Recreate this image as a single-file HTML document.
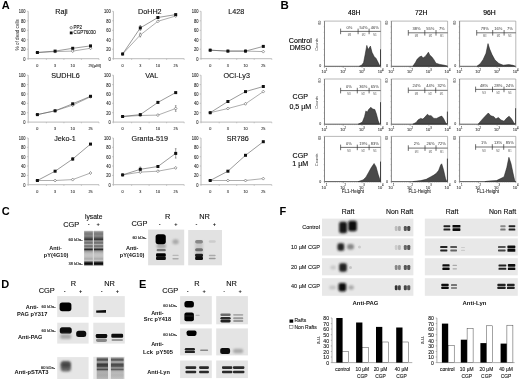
<!DOCTYPE html>
<html><head><meta charset="utf-8"><style>
html,body{margin:0;padding:0;background:#fff;}
svg{display:block;filter:grayscale(1) blur(0.35px);}
text{font-family:'Liberation Sans',sans-serif;}
</style></head><body>
<svg width="520" height="379" viewBox="0 0 520 379">
<rect width="520" height="379" fill="#fff"/>
<defs>
<filter id="b1" x="-50%" y="-50%" width="200%" height="200%"><feGaussianBlur stdDeviation="0.75"/></filter>
<filter id="b2" x="-50%" y="-50%" width="200%" height="200%"><feGaussianBlur stdDeviation="1.0"/></filter>
<filter id="bh" x="-20%" y="-5%" width="140%" height="110%"><feGaussianBlur stdDeviation="0.5 0.3"/></filter>
<filter id="b3" x="-50%" y="-50%" width="200%" height="200%"><feGaussianBlur stdDeviation="1.6"/></filter>
</defs>
<text x="1.8" y="4.9" font-size="11" font-weight="bold" fill="#000" dominant-baseline="central">A</text>
<path d="M28.2,11.3V58.7H99.0" stroke="#aaa" stroke-width="0.8" fill="none"/>
<path d="M26.9,58.7H28.2M26.9,49.2H28.2M26.9,39.7H28.2M26.9,30.3H28.2M26.9,20.8H28.2M26.9,11.3H28.2M28.2,58.7v1.2M46.4,58.7v1.2M63.9,58.7v1.2M81.4,58.7v1.2M99.0,58.7v1.2" stroke="#aaa" stroke-width="0.6" fill="none"/>
<text x="25.6" y="59.1" font-size="4.7" text-anchor="end" font-weight="normal" fill="#333" dominant-baseline="central" stroke="#333" stroke-width="0.12" textLength="2.25" lengthAdjust="spacingAndGlyphs">0</text>
<text x="25.6" y="49.6" font-size="4.7" text-anchor="end" font-weight="normal" fill="#333" dominant-baseline="central" stroke="#333" stroke-width="0.12" textLength="4.50" lengthAdjust="spacingAndGlyphs">20</text>
<text x="25.6" y="40.1" font-size="4.7" text-anchor="end" font-weight="normal" fill="#333" dominant-baseline="central" stroke="#333" stroke-width="0.12" textLength="4.50" lengthAdjust="spacingAndGlyphs">40</text>
<text x="25.6" y="30.7" font-size="4.7" text-anchor="end" font-weight="normal" fill="#333" dominant-baseline="central" stroke="#333" stroke-width="0.12" textLength="4.50" lengthAdjust="spacingAndGlyphs">60</text>
<text x="25.6" y="21.2" font-size="4.7" text-anchor="end" font-weight="normal" fill="#333" dominant-baseline="central" stroke="#333" stroke-width="0.12" textLength="4.50" lengthAdjust="spacingAndGlyphs">80</text>
<text x="25.6" y="11.7" font-size="4.7" text-anchor="end" font-weight="normal" fill="#333" dominant-baseline="central" stroke="#333" stroke-width="0.12" textLength="6.74" lengthAdjust="spacingAndGlyphs">100</text>
<text x="37.4" y="65.3" font-size="4.4" text-anchor="middle" font-weight="normal" fill="#333" dominant-baseline="central" stroke="#333" stroke-width="0.1" textLength="2.10" lengthAdjust="spacingAndGlyphs">0</text>
<text x="55.1" y="65.3" font-size="4.4" text-anchor="middle" font-weight="normal" fill="#333" dominant-baseline="central" stroke="#333" stroke-width="0.1" textLength="2.10" lengthAdjust="spacingAndGlyphs">3</text>
<text x="72.7" y="65.3" font-size="4.4" text-anchor="middle" font-weight="normal" fill="#333" dominant-baseline="central" stroke="#333" stroke-width="0.1" textLength="4.21" lengthAdjust="spacingAndGlyphs">10</text>
<text x="90.5" y="65.3" font-size="4.4" text-anchor="middle" font-weight="normal" fill="#333" dominant-baseline="central" stroke="#333" stroke-width="0.1" textLength="4.21" lengthAdjust="spacingAndGlyphs">25</text>
<text x="92.6" y="65.4" font-size="4.2" text-anchor="start" font-weight="normal" fill="#333" dominant-baseline="central" stroke="#333" stroke-width="0.1">[µM]</text>
<text x="0" y="0" font-size="4.6" text-anchor="middle" fill="#111" dominant-baseline="central" transform="translate(17.3,34.8) rotate(-90)">% of dead cells</text>
<circle cx="71.2" cy="27.7" r="1.2" fill="#fff" stroke="#333" stroke-width="0.6"/>
<text x="73.6" y="27.7" font-size="4.5" text-anchor="start" font-weight="normal" fill="#111" dominant-baseline="central" stroke="#111" stroke-width="0.1">PP2</text>
<rect x="69.8" y="31.5" width="2.8" height="2.8" fill="#111"/>
<text x="73.6" y="32.9" font-size="4.5" text-anchor="start" font-weight="normal" fill="#111" dominant-baseline="central" stroke="#111" stroke-width="0.1">CGP76030</text>
<text x="61.5" y="11.6" font-size="7.2" text-anchor="middle" font-weight="normal" fill="#111" dominant-baseline="central" stroke="#111" stroke-width="0.12">Raji</text>
<polyline points="37.4,52.5 55.1,51.6 72.7,51.1 90.5,48.3" stroke="#777" stroke-width="0.6" fill="none"/>
<polyline points="37.4,52.5 55.1,51.1 72.7,48.3 90.5,45.9" stroke="#555" stroke-width="0.6" fill="none"/>
<path d="M37.4,51.0l1.3,1.5l-1.3,1.5l-1.3,-1.5z" fill="#fff" stroke="#555" stroke-width="0.55"/>
<path d="M55.1,50.1l1.3,1.5l-1.3,1.5l-1.3,-1.5z" fill="#fff" stroke="#555" stroke-width="0.55"/>
<path d="M72.7,49.6l1.3,1.5l-1.3,1.5l-1.3,-1.5z" fill="#fff" stroke="#555" stroke-width="0.55"/>
<path d="M90.5,46.8l1.3,1.5l-1.3,1.5l-1.3,-1.5z" fill="#fff" stroke="#555" stroke-width="0.55"/>
<rect x="35.9" y="51.0" width="3" height="3" fill="#111"/>
<rect x="53.6" y="49.6" width="3" height="3" fill="#111"/>
<rect x="71.2" y="46.8" width="3" height="3" fill="#111"/>
<rect x="89.0" y="44.4" width="3" height="3" fill="#111"/>
<path d="M113.4,11.3V58.7H184.2" stroke="#aaa" stroke-width="0.8" fill="none"/>
<path d="M112.1,58.7H113.4M112.1,49.2H113.4M112.1,39.7H113.4M112.1,30.3H113.4M112.1,20.8H113.4M112.1,11.3H113.4M113.4,58.7v1.2M131.6,58.7v1.2M149.1,58.7v1.2M166.6,58.7v1.2M184.2,58.7v1.2" stroke="#aaa" stroke-width="0.6" fill="none"/>
<text x="110.8" y="59.1" font-size="4.7" text-anchor="end" font-weight="normal" fill="#333" dominant-baseline="central" stroke="#333" stroke-width="0.12" textLength="2.25" lengthAdjust="spacingAndGlyphs">0</text>
<text x="110.8" y="49.6" font-size="4.7" text-anchor="end" font-weight="normal" fill="#333" dominant-baseline="central" stroke="#333" stroke-width="0.12" textLength="4.50" lengthAdjust="spacingAndGlyphs">20</text>
<text x="110.8" y="40.1" font-size="4.7" text-anchor="end" font-weight="normal" fill="#333" dominant-baseline="central" stroke="#333" stroke-width="0.12" textLength="4.50" lengthAdjust="spacingAndGlyphs">40</text>
<text x="110.8" y="30.7" font-size="4.7" text-anchor="end" font-weight="normal" fill="#333" dominant-baseline="central" stroke="#333" stroke-width="0.12" textLength="4.50" lengthAdjust="spacingAndGlyphs">60</text>
<text x="110.8" y="21.2" font-size="4.7" text-anchor="end" font-weight="normal" fill="#333" dominant-baseline="central" stroke="#333" stroke-width="0.12" textLength="4.50" lengthAdjust="spacingAndGlyphs">80</text>
<text x="110.8" y="11.7" font-size="4.7" text-anchor="end" font-weight="normal" fill="#333" dominant-baseline="central" stroke="#333" stroke-width="0.12" textLength="6.74" lengthAdjust="spacingAndGlyphs">100</text>
<text x="122.6" y="65.3" font-size="4.4" text-anchor="middle" font-weight="normal" fill="#333" dominant-baseline="central" stroke="#333" stroke-width="0.1" textLength="2.10" lengthAdjust="spacingAndGlyphs">0</text>
<text x="140.3" y="65.3" font-size="4.4" text-anchor="middle" font-weight="normal" fill="#333" dominant-baseline="central" stroke="#333" stroke-width="0.1" textLength="2.10" lengthAdjust="spacingAndGlyphs">3</text>
<text x="157.9" y="65.3" font-size="4.4" text-anchor="middle" font-weight="normal" fill="#333" dominant-baseline="central" stroke="#333" stroke-width="0.1" textLength="4.21" lengthAdjust="spacingAndGlyphs">10</text>
<text x="175.7" y="65.3" font-size="4.4" text-anchor="middle" font-weight="normal" fill="#333" dominant-baseline="central" stroke="#333" stroke-width="0.1" textLength="4.21" lengthAdjust="spacingAndGlyphs">25</text>
<text x="149.8" y="11.6" font-size="7.2" text-anchor="middle" font-weight="normal" fill="#111" dominant-baseline="central" stroke="#111" stroke-width="0.12">DoHH2</text>
<path d="M140.3,25.5V30.3M139.5,25.5h1.6M139.5,30.3h1.6" stroke="#444" stroke-width="0.5"/>
<path d="M140.3,33.1V36.9M139.5,33.1h1.6M139.5,36.9h1.6" stroke="#444" stroke-width="0.5"/>
<polyline points="122.6,54.0 140.3,35.0 157.9,21.3 175.7,16.0" stroke="#777" stroke-width="0.6" fill="none"/>
<polyline points="122.6,54.0 140.3,27.9 157.9,17.5 175.7,14.6" stroke="#555" stroke-width="0.6" fill="none"/>
<path d="M122.6,52.5l1.3,1.5l-1.3,1.5l-1.3,-1.5z" fill="#fff" stroke="#555" stroke-width="0.55"/>
<path d="M140.3,33.5l1.3,1.5l-1.3,1.5l-1.3,-1.5z" fill="#fff" stroke="#555" stroke-width="0.55"/>
<path d="M157.9,19.8l1.3,1.5l-1.3,1.5l-1.3,-1.5z" fill="#fff" stroke="#555" stroke-width="0.55"/>
<path d="M175.7,14.5l1.3,1.5l-1.3,1.5l-1.3,-1.5z" fill="#fff" stroke="#555" stroke-width="0.55"/>
<rect x="121.1" y="52.5" width="3" height="3" fill="#111"/>
<rect x="138.8" y="26.4" width="3" height="3" fill="#111"/>
<rect x="156.4" y="16.0" width="3" height="3" fill="#111"/>
<rect x="174.2" y="13.1" width="3" height="3" fill="#111"/>
<path d="M201.0,11.3V58.7H271.8" stroke="#aaa" stroke-width="0.8" fill="none"/>
<path d="M199.7,58.7H201.0M199.7,49.2H201.0M199.7,39.7H201.0M199.7,30.3H201.0M199.7,20.8H201.0M199.7,11.3H201.0M201.0,58.7v1.2M219.2,58.7v1.2M236.7,58.7v1.2M254.2,58.7v1.2M271.8,58.7v1.2" stroke="#aaa" stroke-width="0.6" fill="none"/>
<text x="198.4" y="59.1" font-size="4.7" text-anchor="end" font-weight="normal" fill="#333" dominant-baseline="central" stroke="#333" stroke-width="0.12" textLength="2.25" lengthAdjust="spacingAndGlyphs">0</text>
<text x="198.4" y="49.6" font-size="4.7" text-anchor="end" font-weight="normal" fill="#333" dominant-baseline="central" stroke="#333" stroke-width="0.12" textLength="4.50" lengthAdjust="spacingAndGlyphs">20</text>
<text x="198.4" y="40.1" font-size="4.7" text-anchor="end" font-weight="normal" fill="#333" dominant-baseline="central" stroke="#333" stroke-width="0.12" textLength="4.50" lengthAdjust="spacingAndGlyphs">40</text>
<text x="198.4" y="30.7" font-size="4.7" text-anchor="end" font-weight="normal" fill="#333" dominant-baseline="central" stroke="#333" stroke-width="0.12" textLength="4.50" lengthAdjust="spacingAndGlyphs">60</text>
<text x="198.4" y="21.2" font-size="4.7" text-anchor="end" font-weight="normal" fill="#333" dominant-baseline="central" stroke="#333" stroke-width="0.12" textLength="4.50" lengthAdjust="spacingAndGlyphs">80</text>
<text x="198.4" y="11.7" font-size="4.7" text-anchor="end" font-weight="normal" fill="#333" dominant-baseline="central" stroke="#333" stroke-width="0.12" textLength="6.74" lengthAdjust="spacingAndGlyphs">100</text>
<text x="210.2" y="65.3" font-size="4.4" text-anchor="middle" font-weight="normal" fill="#333" dominant-baseline="central" stroke="#333" stroke-width="0.1" textLength="2.10" lengthAdjust="spacingAndGlyphs">0</text>
<text x="227.9" y="65.3" font-size="4.4" text-anchor="middle" font-weight="normal" fill="#333" dominant-baseline="central" stroke="#333" stroke-width="0.1" textLength="2.10" lengthAdjust="spacingAndGlyphs">3</text>
<text x="245.5" y="65.3" font-size="4.4" text-anchor="middle" font-weight="normal" fill="#333" dominant-baseline="central" stroke="#333" stroke-width="0.1" textLength="4.21" lengthAdjust="spacingAndGlyphs">10</text>
<text x="263.3" y="65.3" font-size="4.4" text-anchor="middle" font-weight="normal" fill="#333" dominant-baseline="central" stroke="#333" stroke-width="0.1" textLength="4.21" lengthAdjust="spacingAndGlyphs">25</text>
<text x="236.3" y="11.6" font-size="7.2" text-anchor="middle" font-weight="normal" fill="#111" dominant-baseline="central" stroke="#111" stroke-width="0.12">L428</text>
<polyline points="210.2,50.2 227.9,51.1 245.5,51.1 263.3,51.6" stroke="#777" stroke-width="0.6" fill="none"/>
<polyline points="210.2,50.2 227.9,51.1 245.5,51.1 263.3,46.4" stroke="#555" stroke-width="0.6" fill="none"/>
<path d="M210.2,48.7l1.3,1.5l-1.3,1.5l-1.3,-1.5z" fill="#fff" stroke="#555" stroke-width="0.55"/>
<path d="M227.9,49.6l1.3,1.5l-1.3,1.5l-1.3,-1.5z" fill="#fff" stroke="#555" stroke-width="0.55"/>
<path d="M245.5,49.6l1.3,1.5l-1.3,1.5l-1.3,-1.5z" fill="#fff" stroke="#555" stroke-width="0.55"/>
<path d="M263.3,50.1l1.3,1.5l-1.3,1.5l-1.3,-1.5z" fill="#fff" stroke="#555" stroke-width="0.55"/>
<rect x="208.7" y="48.7" width="3" height="3" fill="#111"/>
<rect x="226.4" y="49.6" width="3" height="3" fill="#111"/>
<rect x="244.0" y="49.6" width="3" height="3" fill="#111"/>
<rect x="261.8" y="44.9" width="3" height="3" fill="#111"/>
<path d="M28.2,75.2V122.1H99.0" stroke="#aaa" stroke-width="0.8" fill="none"/>
<path d="M26.9,122.1H28.2M26.9,112.7H28.2M26.9,103.3H28.2M26.9,94.0H28.2M26.9,84.6H28.2M26.9,75.2H28.2M28.2,122.1v1.2M46.4,122.1v1.2M63.9,122.1v1.2M81.4,122.1v1.2M99.0,122.1v1.2" stroke="#aaa" stroke-width="0.6" fill="none"/>
<text x="25.6" y="122.5" font-size="4.7" text-anchor="end" font-weight="normal" fill="#333" dominant-baseline="central" stroke="#333" stroke-width="0.12" textLength="2.25" lengthAdjust="spacingAndGlyphs">0</text>
<text x="25.6" y="113.1" font-size="4.7" text-anchor="end" font-weight="normal" fill="#333" dominant-baseline="central" stroke="#333" stroke-width="0.12" textLength="4.50" lengthAdjust="spacingAndGlyphs">20</text>
<text x="25.6" y="103.7" font-size="4.7" text-anchor="end" font-weight="normal" fill="#333" dominant-baseline="central" stroke="#333" stroke-width="0.12" textLength="4.50" lengthAdjust="spacingAndGlyphs">40</text>
<text x="25.6" y="94.4" font-size="4.7" text-anchor="end" font-weight="normal" fill="#333" dominant-baseline="central" stroke="#333" stroke-width="0.12" textLength="4.50" lengthAdjust="spacingAndGlyphs">60</text>
<text x="25.6" y="85.0" font-size="4.7" text-anchor="end" font-weight="normal" fill="#333" dominant-baseline="central" stroke="#333" stroke-width="0.12" textLength="4.50" lengthAdjust="spacingAndGlyphs">80</text>
<text x="25.6" y="75.6" font-size="4.7" text-anchor="end" font-weight="normal" fill="#333" dominant-baseline="central" stroke="#333" stroke-width="0.12" textLength="6.74" lengthAdjust="spacingAndGlyphs">100</text>
<text x="37.4" y="128.7" font-size="4.4" text-anchor="middle" font-weight="normal" fill="#333" dominant-baseline="central" stroke="#333" stroke-width="0.1" textLength="2.10" lengthAdjust="spacingAndGlyphs">0</text>
<text x="55.1" y="128.7" font-size="4.4" text-anchor="middle" font-weight="normal" fill="#333" dominant-baseline="central" stroke="#333" stroke-width="0.1" textLength="2.10" lengthAdjust="spacingAndGlyphs">3</text>
<text x="72.7" y="128.7" font-size="4.4" text-anchor="middle" font-weight="normal" fill="#333" dominant-baseline="central" stroke="#333" stroke-width="0.1" textLength="4.21" lengthAdjust="spacingAndGlyphs">10</text>
<text x="90.5" y="128.7" font-size="4.4" text-anchor="middle" font-weight="normal" fill="#333" dominant-baseline="central" stroke="#333" stroke-width="0.1" textLength="4.21" lengthAdjust="spacingAndGlyphs">25</text>
<text x="65.5" y="75.5" font-size="7.2" text-anchor="middle" font-weight="normal" fill="#111" dominant-baseline="central" stroke="#111" stroke-width="0.12">SUDHL6</text>
<polyline points="37.4,114.6 55.1,110.8 72.7,105.2 90.5,96.8" stroke="#777" stroke-width="0.6" fill="none"/>
<polyline points="37.4,114.6 55.1,110.8 72.7,103.8 90.5,96.3" stroke="#555" stroke-width="0.6" fill="none"/>
<path d="M37.4,113.1l1.3,1.5l-1.3,1.5l-1.3,-1.5z" fill="#fff" stroke="#555" stroke-width="0.55"/>
<path d="M55.1,109.3l1.3,1.5l-1.3,1.5l-1.3,-1.5z" fill="#fff" stroke="#555" stroke-width="0.55"/>
<path d="M72.7,103.7l1.3,1.5l-1.3,1.5l-1.3,-1.5z" fill="#fff" stroke="#555" stroke-width="0.55"/>
<path d="M90.5,95.3l1.3,1.5l-1.3,1.5l-1.3,-1.5z" fill="#fff" stroke="#555" stroke-width="0.55"/>
<rect x="35.9" y="113.1" width="3" height="3" fill="#111"/>
<rect x="53.6" y="109.3" width="3" height="3" fill="#111"/>
<rect x="71.2" y="102.3" width="3" height="3" fill="#111"/>
<rect x="89.0" y="94.8" width="3" height="3" fill="#111"/>
<path d="M113.4,75.2V122.1H184.2" stroke="#aaa" stroke-width="0.8" fill="none"/>
<path d="M112.1,122.1H113.4M112.1,112.7H113.4M112.1,103.3H113.4M112.1,94.0H113.4M112.1,84.6H113.4M112.1,75.2H113.4M113.4,122.1v1.2M131.6,122.1v1.2M149.1,122.1v1.2M166.6,122.1v1.2M184.2,122.1v1.2" stroke="#aaa" stroke-width="0.6" fill="none"/>
<text x="110.8" y="122.5" font-size="4.7" text-anchor="end" font-weight="normal" fill="#333" dominant-baseline="central" stroke="#333" stroke-width="0.12" textLength="2.25" lengthAdjust="spacingAndGlyphs">0</text>
<text x="110.8" y="113.1" font-size="4.7" text-anchor="end" font-weight="normal" fill="#333" dominant-baseline="central" stroke="#333" stroke-width="0.12" textLength="4.50" lengthAdjust="spacingAndGlyphs">20</text>
<text x="110.8" y="103.7" font-size="4.7" text-anchor="end" font-weight="normal" fill="#333" dominant-baseline="central" stroke="#333" stroke-width="0.12" textLength="4.50" lengthAdjust="spacingAndGlyphs">40</text>
<text x="110.8" y="94.4" font-size="4.7" text-anchor="end" font-weight="normal" fill="#333" dominant-baseline="central" stroke="#333" stroke-width="0.12" textLength="4.50" lengthAdjust="spacingAndGlyphs">60</text>
<text x="110.8" y="85.0" font-size="4.7" text-anchor="end" font-weight="normal" fill="#333" dominant-baseline="central" stroke="#333" stroke-width="0.12" textLength="4.50" lengthAdjust="spacingAndGlyphs">80</text>
<text x="110.8" y="75.6" font-size="4.7" text-anchor="end" font-weight="normal" fill="#333" dominant-baseline="central" stroke="#333" stroke-width="0.12" textLength="6.74" lengthAdjust="spacingAndGlyphs">100</text>
<text x="122.6" y="128.7" font-size="4.4" text-anchor="middle" font-weight="normal" fill="#333" dominant-baseline="central" stroke="#333" stroke-width="0.1" textLength="2.10" lengthAdjust="spacingAndGlyphs">0</text>
<text x="140.3" y="128.7" font-size="4.4" text-anchor="middle" font-weight="normal" fill="#333" dominant-baseline="central" stroke="#333" stroke-width="0.1" textLength="2.10" lengthAdjust="spacingAndGlyphs">3</text>
<text x="157.9" y="128.7" font-size="4.4" text-anchor="middle" font-weight="normal" fill="#333" dominant-baseline="central" stroke="#333" stroke-width="0.1" textLength="4.21" lengthAdjust="spacingAndGlyphs">10</text>
<text x="175.7" y="128.7" font-size="4.4" text-anchor="middle" font-weight="normal" fill="#333" dominant-baseline="central" stroke="#333" stroke-width="0.1" textLength="4.21" lengthAdjust="spacingAndGlyphs">25</text>
<text x="151.7" y="75.5" font-size="7.2" text-anchor="middle" font-weight="normal" fill="#111" dominant-baseline="central" stroke="#111" stroke-width="0.12">VAL</text>
<path d="M175.7,105.7V111.3M174.9,105.7h1.6M174.9,111.3h1.6" stroke="#444" stroke-width="0.5"/>
<polyline points="122.6,116.5 140.3,115.5 157.9,115.1 175.7,108.5" stroke="#777" stroke-width="0.6" fill="none"/>
<polyline points="122.6,116.5 140.3,114.6 157.9,102.4 175.7,92.6" stroke="#555" stroke-width="0.6" fill="none"/>
<path d="M122.6,115.0l1.3,1.5l-1.3,1.5l-1.3,-1.5z" fill="#fff" stroke="#555" stroke-width="0.55"/>
<path d="M140.3,114.0l1.3,1.5l-1.3,1.5l-1.3,-1.5z" fill="#fff" stroke="#555" stroke-width="0.55"/>
<path d="M157.9,113.6l1.3,1.5l-1.3,1.5l-1.3,-1.5z" fill="#fff" stroke="#555" stroke-width="0.55"/>
<path d="M175.7,107.0l1.3,1.5l-1.3,1.5l-1.3,-1.5z" fill="#fff" stroke="#555" stroke-width="0.55"/>
<rect x="121.1" y="115.0" width="3" height="3" fill="#111"/>
<rect x="138.8" y="113.1" width="3" height="3" fill="#111"/>
<rect x="156.4" y="100.9" width="3" height="3" fill="#111"/>
<rect x="174.2" y="91.1" width="3" height="3" fill="#111"/>
<path d="M201.0,75.2V122.1H271.8" stroke="#aaa" stroke-width="0.8" fill="none"/>
<path d="M199.7,122.1H201.0M199.7,112.7H201.0M199.7,103.3H201.0M199.7,94.0H201.0M199.7,84.6H201.0M199.7,75.2H201.0M201.0,122.1v1.2M219.2,122.1v1.2M236.7,122.1v1.2M254.2,122.1v1.2M271.8,122.1v1.2" stroke="#aaa" stroke-width="0.6" fill="none"/>
<text x="198.4" y="122.5" font-size="4.7" text-anchor="end" font-weight="normal" fill="#333" dominant-baseline="central" stroke="#333" stroke-width="0.12" textLength="2.25" lengthAdjust="spacingAndGlyphs">0</text>
<text x="198.4" y="113.1" font-size="4.7" text-anchor="end" font-weight="normal" fill="#333" dominant-baseline="central" stroke="#333" stroke-width="0.12" textLength="4.50" lengthAdjust="spacingAndGlyphs">20</text>
<text x="198.4" y="103.7" font-size="4.7" text-anchor="end" font-weight="normal" fill="#333" dominant-baseline="central" stroke="#333" stroke-width="0.12" textLength="4.50" lengthAdjust="spacingAndGlyphs">40</text>
<text x="198.4" y="94.4" font-size="4.7" text-anchor="end" font-weight="normal" fill="#333" dominant-baseline="central" stroke="#333" stroke-width="0.12" textLength="4.50" lengthAdjust="spacingAndGlyphs">60</text>
<text x="198.4" y="85.0" font-size="4.7" text-anchor="end" font-weight="normal" fill="#333" dominant-baseline="central" stroke="#333" stroke-width="0.12" textLength="4.50" lengthAdjust="spacingAndGlyphs">80</text>
<text x="198.4" y="75.6" font-size="4.7" text-anchor="end" font-weight="normal" fill="#333" dominant-baseline="central" stroke="#333" stroke-width="0.12" textLength="6.74" lengthAdjust="spacingAndGlyphs">100</text>
<text x="210.2" y="128.7" font-size="4.4" text-anchor="middle" font-weight="normal" fill="#333" dominant-baseline="central" stroke="#333" stroke-width="0.1" textLength="2.10" lengthAdjust="spacingAndGlyphs">0</text>
<text x="227.9" y="128.7" font-size="4.4" text-anchor="middle" font-weight="normal" fill="#333" dominant-baseline="central" stroke="#333" stroke-width="0.1" textLength="2.10" lengthAdjust="spacingAndGlyphs">3</text>
<text x="245.5" y="128.7" font-size="4.4" text-anchor="middle" font-weight="normal" fill="#333" dominant-baseline="central" stroke="#333" stroke-width="0.1" textLength="4.21" lengthAdjust="spacingAndGlyphs">10</text>
<text x="263.3" y="128.7" font-size="4.4" text-anchor="middle" font-weight="normal" fill="#333" dominant-baseline="central" stroke="#333" stroke-width="0.1" textLength="4.21" lengthAdjust="spacingAndGlyphs">25</text>
<text x="236.7" y="75.5" font-size="7.2" text-anchor="middle" font-weight="normal" fill="#111" dominant-baseline="central" stroke="#111" stroke-width="0.12">OCI-Ly3</text>
<polyline points="210.2,112.7 227.9,108.5 245.5,103.8 263.3,91.6" stroke="#777" stroke-width="0.6" fill="none"/>
<polyline points="210.2,112.7 227.9,101.5 245.5,91.6 263.3,86.5" stroke="#555" stroke-width="0.6" fill="none"/>
<path d="M210.2,111.2l1.3,1.5l-1.3,1.5l-1.3,-1.5z" fill="#fff" stroke="#555" stroke-width="0.55"/>
<path d="M227.9,107.0l1.3,1.5l-1.3,1.5l-1.3,-1.5z" fill="#fff" stroke="#555" stroke-width="0.55"/>
<path d="M245.5,102.3l1.3,1.5l-1.3,1.5l-1.3,-1.5z" fill="#fff" stroke="#555" stroke-width="0.55"/>
<path d="M263.3,90.1l1.3,1.5l-1.3,1.5l-1.3,-1.5z" fill="#fff" stroke="#555" stroke-width="0.55"/>
<rect x="208.7" y="111.2" width="3" height="3" fill="#111"/>
<rect x="226.4" y="100.0" width="3" height="3" fill="#111"/>
<rect x="244.0" y="90.1" width="3" height="3" fill="#111"/>
<rect x="261.8" y="85.0" width="3" height="3" fill="#111"/>
<path d="M28.2,138.0V184.7H99.0" stroke="#aaa" stroke-width="0.8" fill="none"/>
<path d="M26.9,184.7H28.2M26.9,175.4H28.2M26.9,166.0H28.2M26.9,156.7H28.2M26.9,147.3H28.2M26.9,138.0H28.2M28.2,184.7v1.2M46.4,184.7v1.2M63.9,184.7v1.2M81.4,184.7v1.2M99.0,184.7v1.2" stroke="#aaa" stroke-width="0.6" fill="none"/>
<text x="25.6" y="185.1" font-size="4.7" text-anchor="end" font-weight="normal" fill="#333" dominant-baseline="central" stroke="#333" stroke-width="0.12" textLength="2.25" lengthAdjust="spacingAndGlyphs">0</text>
<text x="25.6" y="175.8" font-size="4.7" text-anchor="end" font-weight="normal" fill="#333" dominant-baseline="central" stroke="#333" stroke-width="0.12" textLength="4.50" lengthAdjust="spacingAndGlyphs">20</text>
<text x="25.6" y="166.4" font-size="4.7" text-anchor="end" font-weight="normal" fill="#333" dominant-baseline="central" stroke="#333" stroke-width="0.12" textLength="4.50" lengthAdjust="spacingAndGlyphs">40</text>
<text x="25.6" y="157.1" font-size="4.7" text-anchor="end" font-weight="normal" fill="#333" dominant-baseline="central" stroke="#333" stroke-width="0.12" textLength="4.50" lengthAdjust="spacingAndGlyphs">60</text>
<text x="25.6" y="147.7" font-size="4.7" text-anchor="end" font-weight="normal" fill="#333" dominant-baseline="central" stroke="#333" stroke-width="0.12" textLength="4.50" lengthAdjust="spacingAndGlyphs">80</text>
<text x="25.6" y="138.4" font-size="4.7" text-anchor="end" font-weight="normal" fill="#333" dominant-baseline="central" stroke="#333" stroke-width="0.12" textLength="6.74" lengthAdjust="spacingAndGlyphs">100</text>
<text x="37.4" y="191.3" font-size="4.4" text-anchor="middle" font-weight="normal" fill="#333" dominant-baseline="central" stroke="#333" stroke-width="0.1" textLength="2.10" lengthAdjust="spacingAndGlyphs">0</text>
<text x="55.1" y="191.3" font-size="4.4" text-anchor="middle" font-weight="normal" fill="#333" dominant-baseline="central" stroke="#333" stroke-width="0.1" textLength="2.10" lengthAdjust="spacingAndGlyphs">3</text>
<text x="72.7" y="191.3" font-size="4.4" text-anchor="middle" font-weight="normal" fill="#333" dominant-baseline="central" stroke="#333" stroke-width="0.1" textLength="4.21" lengthAdjust="spacingAndGlyphs">10</text>
<text x="90.5" y="191.3" font-size="4.4" text-anchor="middle" font-weight="normal" fill="#333" dominant-baseline="central" stroke="#333" stroke-width="0.1" textLength="4.21" lengthAdjust="spacingAndGlyphs">25</text>
<text x="65.0" y="138.3" font-size="7.2" text-anchor="middle" font-weight="normal" fill="#111" dominant-baseline="central" stroke="#111" stroke-width="0.12">Jeko-1</text>
<path d="M72.7,157.6V160.4M71.9,157.6h1.6M71.9,160.4h1.6" stroke="#444" stroke-width="0.5"/>
<polyline points="37.4,180.5 55.1,180.5 72.7,179.6 90.5,173.0" stroke="#777" stroke-width="0.6" fill="none"/>
<polyline points="37.4,180.5 55.1,171.2 72.7,159.0 90.5,144.1" stroke="#555" stroke-width="0.6" fill="none"/>
<path d="M37.4,179.0l1.3,1.5l-1.3,1.5l-1.3,-1.5z" fill="#fff" stroke="#555" stroke-width="0.55"/>
<path d="M55.1,179.0l1.3,1.5l-1.3,1.5l-1.3,-1.5z" fill="#fff" stroke="#555" stroke-width="0.55"/>
<path d="M72.7,178.1l1.3,1.5l-1.3,1.5l-1.3,-1.5z" fill="#fff" stroke="#555" stroke-width="0.55"/>
<path d="M90.5,171.5l1.3,1.5l-1.3,1.5l-1.3,-1.5z" fill="#fff" stroke="#555" stroke-width="0.55"/>
<rect x="35.9" y="179.0" width="3" height="3" fill="#111"/>
<rect x="53.6" y="169.7" width="3" height="3" fill="#111"/>
<rect x="71.2" y="157.5" width="3" height="3" fill="#111"/>
<rect x="89.0" y="142.6" width="3" height="3" fill="#111"/>
<path d="M113.4,138.0V184.7H184.2" stroke="#aaa" stroke-width="0.8" fill="none"/>
<path d="M112.1,184.7H113.4M112.1,175.4H113.4M112.1,166.0H113.4M112.1,156.7H113.4M112.1,147.3H113.4M112.1,138.0H113.4M113.4,184.7v1.2M131.6,184.7v1.2M149.1,184.7v1.2M166.6,184.7v1.2M184.2,184.7v1.2" stroke="#aaa" stroke-width="0.6" fill="none"/>
<text x="110.8" y="185.1" font-size="4.7" text-anchor="end" font-weight="normal" fill="#333" dominant-baseline="central" stroke="#333" stroke-width="0.12" textLength="2.25" lengthAdjust="spacingAndGlyphs">0</text>
<text x="110.8" y="175.8" font-size="4.7" text-anchor="end" font-weight="normal" fill="#333" dominant-baseline="central" stroke="#333" stroke-width="0.12" textLength="4.50" lengthAdjust="spacingAndGlyphs">20</text>
<text x="110.8" y="166.4" font-size="4.7" text-anchor="end" font-weight="normal" fill="#333" dominant-baseline="central" stroke="#333" stroke-width="0.12" textLength="4.50" lengthAdjust="spacingAndGlyphs">40</text>
<text x="110.8" y="157.1" font-size="4.7" text-anchor="end" font-weight="normal" fill="#333" dominant-baseline="central" stroke="#333" stroke-width="0.12" textLength="4.50" lengthAdjust="spacingAndGlyphs">60</text>
<text x="110.8" y="147.7" font-size="4.7" text-anchor="end" font-weight="normal" fill="#333" dominant-baseline="central" stroke="#333" stroke-width="0.12" textLength="4.50" lengthAdjust="spacingAndGlyphs">80</text>
<text x="110.8" y="138.4" font-size="4.7" text-anchor="end" font-weight="normal" fill="#333" dominant-baseline="central" stroke="#333" stroke-width="0.12" textLength="6.74" lengthAdjust="spacingAndGlyphs">100</text>
<text x="122.6" y="191.3" font-size="4.4" text-anchor="middle" font-weight="normal" fill="#333" dominant-baseline="central" stroke="#333" stroke-width="0.1" textLength="2.10" lengthAdjust="spacingAndGlyphs">0</text>
<text x="140.3" y="191.3" font-size="4.4" text-anchor="middle" font-weight="normal" fill="#333" dominant-baseline="central" stroke="#333" stroke-width="0.1" textLength="2.10" lengthAdjust="spacingAndGlyphs">3</text>
<text x="157.9" y="191.3" font-size="4.4" text-anchor="middle" font-weight="normal" fill="#333" dominant-baseline="central" stroke="#333" stroke-width="0.1" textLength="4.21" lengthAdjust="spacingAndGlyphs">10</text>
<text x="175.7" y="191.3" font-size="4.4" text-anchor="middle" font-weight="normal" fill="#333" dominant-baseline="central" stroke="#333" stroke-width="0.1" textLength="4.21" lengthAdjust="spacingAndGlyphs">25</text>
<text x="149.8" y="138.3" font-size="7.2" text-anchor="middle" font-weight="normal" fill="#111" dominant-baseline="central" stroke="#111" stroke-width="0.12">Granta-519</text>
<path d="M140.3,167.0V171.6M139.5,167.0h1.6M139.5,171.6h1.6" stroke="#444" stroke-width="0.5"/>
<path d="M175.7,148.7V158.1M174.9,148.7h1.6M174.9,158.1h1.6" stroke="#444" stroke-width="0.5"/>
<polyline points="122.6,174.9 140.3,172.1 157.9,171.2 175.7,167.9" stroke="#777" stroke-width="0.6" fill="none"/>
<polyline points="122.6,174.9 140.3,169.3 157.9,166.5 175.7,153.4" stroke="#555" stroke-width="0.6" fill="none"/>
<path d="M122.6,173.4l1.3,1.5l-1.3,1.5l-1.3,-1.5z" fill="#fff" stroke="#555" stroke-width="0.55"/>
<path d="M140.3,170.6l1.3,1.5l-1.3,1.5l-1.3,-1.5z" fill="#fff" stroke="#555" stroke-width="0.55"/>
<path d="M157.9,169.7l1.3,1.5l-1.3,1.5l-1.3,-1.5z" fill="#fff" stroke="#555" stroke-width="0.55"/>
<path d="M175.7,166.4l1.3,1.5l-1.3,1.5l-1.3,-1.5z" fill="#fff" stroke="#555" stroke-width="0.55"/>
<rect x="121.1" y="173.4" width="3" height="3" fill="#111"/>
<rect x="138.8" y="167.8" width="3" height="3" fill="#111"/>
<rect x="156.4" y="165.0" width="3" height="3" fill="#111"/>
<rect x="174.2" y="151.9" width="3" height="3" fill="#111"/>
<path d="M201.0,138.0V184.7H271.8" stroke="#aaa" stroke-width="0.8" fill="none"/>
<path d="M199.7,184.7H201.0M199.7,175.4H201.0M199.7,166.0H201.0M199.7,156.7H201.0M199.7,147.3H201.0M199.7,138.0H201.0M201.0,184.7v1.2M219.2,184.7v1.2M236.7,184.7v1.2M254.2,184.7v1.2M271.8,184.7v1.2" stroke="#aaa" stroke-width="0.6" fill="none"/>
<text x="198.4" y="185.1" font-size="4.7" text-anchor="end" font-weight="normal" fill="#333" dominant-baseline="central" stroke="#333" stroke-width="0.12" textLength="2.25" lengthAdjust="spacingAndGlyphs">0</text>
<text x="198.4" y="175.8" font-size="4.7" text-anchor="end" font-weight="normal" fill="#333" dominant-baseline="central" stroke="#333" stroke-width="0.12" textLength="4.50" lengthAdjust="spacingAndGlyphs">20</text>
<text x="198.4" y="166.4" font-size="4.7" text-anchor="end" font-weight="normal" fill="#333" dominant-baseline="central" stroke="#333" stroke-width="0.12" textLength="4.50" lengthAdjust="spacingAndGlyphs">40</text>
<text x="198.4" y="157.1" font-size="4.7" text-anchor="end" font-weight="normal" fill="#333" dominant-baseline="central" stroke="#333" stroke-width="0.12" textLength="4.50" lengthAdjust="spacingAndGlyphs">60</text>
<text x="198.4" y="147.7" font-size="4.7" text-anchor="end" font-weight="normal" fill="#333" dominant-baseline="central" stroke="#333" stroke-width="0.12" textLength="4.50" lengthAdjust="spacingAndGlyphs">80</text>
<text x="198.4" y="138.4" font-size="4.7" text-anchor="end" font-weight="normal" fill="#333" dominant-baseline="central" stroke="#333" stroke-width="0.12" textLength="6.74" lengthAdjust="spacingAndGlyphs">100</text>
<text x="210.2" y="191.3" font-size="4.4" text-anchor="middle" font-weight="normal" fill="#333" dominant-baseline="central" stroke="#333" stroke-width="0.1" textLength="2.10" lengthAdjust="spacingAndGlyphs">0</text>
<text x="227.9" y="191.3" font-size="4.4" text-anchor="middle" font-weight="normal" fill="#333" dominant-baseline="central" stroke="#333" stroke-width="0.1" textLength="2.10" lengthAdjust="spacingAndGlyphs">3</text>
<text x="245.5" y="191.3" font-size="4.4" text-anchor="middle" font-weight="normal" fill="#333" dominant-baseline="central" stroke="#333" stroke-width="0.1" textLength="4.21" lengthAdjust="spacingAndGlyphs">10</text>
<text x="263.3" y="191.3" font-size="4.4" text-anchor="middle" font-weight="normal" fill="#333" dominant-baseline="central" stroke="#333" stroke-width="0.1" textLength="4.21" lengthAdjust="spacingAndGlyphs">25</text>
<text x="237.7" y="138.3" font-size="7.2" text-anchor="middle" font-weight="normal" fill="#111" dominant-baseline="central" stroke="#111" stroke-width="0.12">SR786</text>
<polyline points="210.2,180.5 227.9,180.5 245.5,180.5 263.3,178.6" stroke="#777" stroke-width="0.6" fill="none"/>
<polyline points="210.2,180.5 227.9,171.2 245.5,155.3 263.3,141.7" stroke="#555" stroke-width="0.6" fill="none"/>
<path d="M210.2,179.0l1.3,1.5l-1.3,1.5l-1.3,-1.5z" fill="#fff" stroke="#555" stroke-width="0.55"/>
<path d="M227.9,179.0l1.3,1.5l-1.3,1.5l-1.3,-1.5z" fill="#fff" stroke="#555" stroke-width="0.55"/>
<path d="M245.5,179.0l1.3,1.5l-1.3,1.5l-1.3,-1.5z" fill="#fff" stroke="#555" stroke-width="0.55"/>
<path d="M263.3,177.1l1.3,1.5l-1.3,1.5l-1.3,-1.5z" fill="#fff" stroke="#555" stroke-width="0.55"/>
<rect x="208.7" y="179.0" width="3" height="3" fill="#111"/>
<rect x="226.4" y="169.7" width="3" height="3" fill="#111"/>
<rect x="244.0" y="153.8" width="3" height="3" fill="#111"/>
<rect x="261.8" y="140.2" width="3" height="3" fill="#111"/>
<text x="280.6" y="4.8" font-size="11.5" font-weight="bold" fill="#000" dominant-baseline="central">B</text>
<text x="354.3" y="12.0" font-size="6.8" text-anchor="middle" font-weight="normal" fill="#000" dominant-baseline="central" stroke="#000" stroke-width="0.15">48H</text>
<text x="421.2" y="12.0" font-size="6.8" text-anchor="middle" font-weight="normal" fill="#000" dominant-baseline="central" stroke="#000" stroke-width="0.15">72H</text>
<text x="489.4" y="12.0" font-size="6.8" text-anchor="middle" font-weight="normal" fill="#000" dominant-baseline="central" stroke="#000" stroke-width="0.15">96H</text>
<text x="300.3" y="40.6" font-size="7.1" text-anchor="middle" font-weight="normal" fill="#000" dominant-baseline="central" stroke="#000" stroke-width="0.12">Control</text>
<text x="300.3" y="48.3" font-size="7.1" text-anchor="middle" font-weight="normal" fill="#000" dominant-baseline="central" stroke="#000" stroke-width="0.12">DMSO</text>
<text x="300.3" y="97.2" font-size="7.1" text-anchor="middle" font-weight="normal" fill="#000" dominant-baseline="central" stroke="#000" stroke-width="0.12">CGP</text>
<text x="300.3" y="106.6" font-size="7.1" text-anchor="middle" font-weight="normal" fill="#000" dominant-baseline="central" stroke="#000" stroke-width="0.12">0,5 µM</text>
<text x="300.3" y="155.8" font-size="7.1" text-anchor="middle" font-weight="normal" fill="#000" dominant-baseline="central" stroke="#000" stroke-width="0.12">CGP</text>
<text x="300.3" y="164.0" font-size="7.1" text-anchor="middle" font-weight="normal" fill="#000" dominant-baseline="central" stroke="#000" stroke-width="0.12">1 µM</text>
<path d="M324.5,21.1H380.7V66.3" stroke="#888" stroke-width="0.6" fill="none"/>
<path d="M324.5,66.3V21.1" stroke="#777" stroke-width="0.9" fill="none"/>
<path d="M359.3,66.3L359.3,66.3L361.6,65.3L363.6,62.6L365.2,54.3L366.8,45.4L368.2,49.5L370.4,46.1L372.0,52.3L374.1,56.4L376.1,58.5L378.2,62.6L380.0,66.3Z" fill="#4a4a4a" stroke="#1a1a1a" stroke-width="0.5" stroke-linejoin="round"/>
<path d="M380.5,66.3v-17.0" stroke="#333" stroke-width="0.9"/>
<path d="M324.5,66.3H380.7" stroke="#333" stroke-width="0.8"/>
<path d="M324.5,66.3v0.9M326.4,66.3v0.9M328.2,66.3v0.9M330.1,66.3v0.9M332.0,66.3v0.9M333.9,66.3v0.9M335.7,66.3v0.9M337.6,66.3v0.9M339.5,66.3v0.9M341.4,66.3v0.9M343.2,66.3v0.9M345.1,66.3v0.9M347.0,66.3v0.9M348.9,66.3v0.9M350.7,66.3v0.9M352.6,66.3v0.9M354.5,66.3v0.9M356.3,66.3v0.9M358.2,66.3v0.9M360.1,66.3v0.9M362.0,66.3v0.9M363.8,66.3v0.9M365.7,66.3v0.9M367.6,66.3v0.9M369.5,66.3v0.9M371.3,66.3v0.9M373.2,66.3v0.9M375.1,66.3v0.9M377.0,66.3v0.9M378.8,66.3v0.9M380.7,66.3v0.9" stroke="#666" stroke-width="0.3"/>
<path d="M324.5,66.3v1.6M343.2,66.3v1.6M362.0,66.3v1.6M380.7,66.3v1.6" stroke="#555" stroke-width="0.4"/>
<path d="M323.5,21.1h1M323.5,26.8h1M323.5,32.4h1M323.5,38.1h1M323.5,43.7h1M323.5,49.4h1M323.5,55.0h1M323.5,60.7h1M323.5,66.3h1" stroke="#777" stroke-width="0.3"/>
<path d="M340.6,31.4H380.7M340.6,28.6v5.6M358.1,28.6v5.6M369.1,28.6v5.6" stroke="#333" stroke-width="0.7" fill="none"/>
<text x="349.4" y="27.0" font-size="4.4" text-anchor="middle" font-weight="normal" fill="#333" dominant-baseline="central"   textLength="5.85" lengthAdjust="spacingAndGlyphs">0%</text>
<text x="363.6" y="27.0" font-size="4.4" text-anchor="middle" font-weight="normal" fill="#333" dominant-baseline="central"   textLength="8.10" lengthAdjust="spacingAndGlyphs">54%</text>
<text x="374.9" y="27.0" font-size="4.4" text-anchor="middle" font-weight="normal" fill="#333" dominant-baseline="central"   textLength="8.10" lengthAdjust="spacingAndGlyphs">46%</text>
<text x="349.4" y="35.0" font-size="3.0" text-anchor="middle" font-weight="normal" fill="#666" dominant-baseline="central"   textLength="3.54" lengthAdjust="spacingAndGlyphs">M3</text>
<text x="363.6" y="35.0" font-size="3.0" text-anchor="middle" font-weight="normal" fill="#666" dominant-baseline="central"   textLength="3.54" lengthAdjust="spacingAndGlyphs">M2</text>
<text x="374.9" y="35.0" font-size="3.0" text-anchor="middle" font-weight="normal" fill="#666" dominant-baseline="central"   textLength="3.54" lengthAdjust="spacingAndGlyphs">M1</text>
<text x="323.7" y="71.7" font-size="4.0" text-anchor="middle" font-weight="normal" fill="#444" dominant-baseline="central" stroke="#444" stroke-width="0.1">10</text>
<text x="326.6" y="70.0" font-size="2.8" text-anchor="middle" font-weight="normal" fill="#444" dominant-baseline="central" stroke="#444" stroke-width="0.1">1</text>
<text x="342.4" y="71.7" font-size="4.0" text-anchor="middle" font-weight="normal" fill="#444" dominant-baseline="central" stroke="#444" stroke-width="0.1">10</text>
<text x="345.3" y="70.0" font-size="2.8" text-anchor="middle" font-weight="normal" fill="#444" dominant-baseline="central" stroke="#444" stroke-width="0.1">2</text>
<text x="361.2" y="71.7" font-size="4.0" text-anchor="middle" font-weight="normal" fill="#444" dominant-baseline="central" stroke="#444" stroke-width="0.1">10</text>
<text x="364.1" y="70.0" font-size="2.8" text-anchor="middle" font-weight="normal" fill="#444" dominant-baseline="central" stroke="#444" stroke-width="0.1">3</text>
<text x="379.9" y="71.7" font-size="4.0" text-anchor="middle" font-weight="normal" fill="#444" dominant-baseline="central" stroke="#444" stroke-width="0.1">10</text>
<text x="382.8" y="70.0" font-size="2.8" text-anchor="middle" font-weight="normal" fill="#444" dominant-baseline="central" stroke="#444" stroke-width="0.1">4</text>
<text x="0" y="0" font-size="3.8" fill="#333" text-anchor="middle" dominant-baseline="central" transform="translate(320.3,22.7) rotate(-90)">80</text>
<text x="320.3" y="66.3" font-size="3.0" text-anchor="middle" font-weight="normal" fill="#333" dominant-baseline="central" stroke="#333" stroke-width="0.1">0</text>
<text x="0" y="0" font-size="4.0" fill="#333" text-anchor="middle" dominant-baseline="central" transform="translate(316.0,44.5) rotate(-90)">Counts</text>
<path d="M391.4,21.1H447.6V66.3" stroke="#888" stroke-width="0.6" fill="none"/>
<path d="M391.4,66.3V21.1" stroke="#777" stroke-width="0.9" fill="none"/>
<path d="M412.8,66.3L412.8,66.3L415.4,62.5L417.3,59.0L419.5,57.0L421.5,56.0L422.9,58.1L425.0,56.7L427.0,54.2L428.4,52.2L429.7,54.9L431.9,57.0L433.9,59.7L435.9,63.2L440.0,64.5L442.8,64.9L445.5,65.5L447.6,66.3Z" fill="#4a4a4a" stroke="#1a1a1a" stroke-width="0.5" stroke-linejoin="round"/>
<path d="M391.4,66.3H447.6" stroke="#333" stroke-width="0.8"/>
<path d="M391.4,66.3v0.9M393.3,66.3v0.9M395.1,66.3v0.9M397.0,66.3v0.9M398.9,66.3v0.9M400.8,66.3v0.9M402.6,66.3v0.9M404.5,66.3v0.9M406.4,66.3v0.9M408.3,66.3v0.9M410.1,66.3v0.9M412.0,66.3v0.9M413.9,66.3v0.9M415.8,66.3v0.9M417.6,66.3v0.9M419.5,66.3v0.9M421.4,66.3v0.9M423.2,66.3v0.9M425.1,66.3v0.9M427.0,66.3v0.9M428.9,66.3v0.9M430.7,66.3v0.9M432.6,66.3v0.9M434.5,66.3v0.9M436.4,66.3v0.9M438.2,66.3v0.9M440.1,66.3v0.9M442.0,66.3v0.9M443.9,66.3v0.9M445.7,66.3v0.9M447.6,66.3v0.9" stroke="#666" stroke-width="0.3"/>
<path d="M391.4,66.3v1.6M410.1,66.3v1.6M428.9,66.3v1.6M447.6,66.3v1.6" stroke="#555" stroke-width="0.4"/>
<path d="M390.4,21.1h1M390.4,26.8h1M390.4,32.4h1M390.4,38.1h1M390.4,43.7h1M390.4,49.4h1M390.4,55.0h1M390.4,60.7h1M390.4,66.3h1" stroke="#777" stroke-width="0.3"/>
<path d="M408.3,32.8H447.6M408.3,30.0v5.6M424.8,30.0v5.6M436.0,30.0v5.6" stroke="#333" stroke-width="0.7" fill="none"/>
<text x="416.5" y="28.4" font-size="4.4" text-anchor="middle" font-weight="normal" fill="#333" dominant-baseline="central"   textLength="8.10" lengthAdjust="spacingAndGlyphs">38%</text>
<text x="430.4" y="28.4" font-size="4.4" text-anchor="middle" font-weight="normal" fill="#333" dominant-baseline="central"   textLength="8.10" lengthAdjust="spacingAndGlyphs">55%</text>
<text x="441.8" y="28.4" font-size="4.4" text-anchor="middle" font-weight="normal" fill="#333" dominant-baseline="central"   textLength="5.85" lengthAdjust="spacingAndGlyphs">7%</text>
<text x="416.5" y="36.4" font-size="3.0" text-anchor="middle" font-weight="normal" fill="#666" dominant-baseline="central"   textLength="3.54" lengthAdjust="spacingAndGlyphs">M3</text>
<text x="430.4" y="36.4" font-size="3.0" text-anchor="middle" font-weight="normal" fill="#666" dominant-baseline="central"   textLength="3.54" lengthAdjust="spacingAndGlyphs">M2</text>
<text x="441.8" y="36.4" font-size="3.0" text-anchor="middle" font-weight="normal" fill="#666" dominant-baseline="central"   textLength="3.54" lengthAdjust="spacingAndGlyphs">M1</text>
<text x="390.6" y="71.7" font-size="4.0" text-anchor="middle" font-weight="normal" fill="#444" dominant-baseline="central" stroke="#444" stroke-width="0.1">10</text>
<text x="393.5" y="70.0" font-size="2.8" text-anchor="middle" font-weight="normal" fill="#444" dominant-baseline="central" stroke="#444" stroke-width="0.1">1</text>
<text x="409.3" y="71.7" font-size="4.0" text-anchor="middle" font-weight="normal" fill="#444" dominant-baseline="central" stroke="#444" stroke-width="0.1">10</text>
<text x="412.2" y="70.0" font-size="2.8" text-anchor="middle" font-weight="normal" fill="#444" dominant-baseline="central" stroke="#444" stroke-width="0.1">2</text>
<text x="428.1" y="71.7" font-size="4.0" text-anchor="middle" font-weight="normal" fill="#444" dominant-baseline="central" stroke="#444" stroke-width="0.1">10</text>
<text x="431.0" y="70.0" font-size="2.8" text-anchor="middle" font-weight="normal" fill="#444" dominant-baseline="central" stroke="#444" stroke-width="0.1">3</text>
<text x="446.8" y="71.7" font-size="4.0" text-anchor="middle" font-weight="normal" fill="#444" dominant-baseline="central" stroke="#444" stroke-width="0.1">10</text>
<text x="449.7" y="70.0" font-size="2.8" text-anchor="middle" font-weight="normal" fill="#444" dominant-baseline="central" stroke="#444" stroke-width="0.1">4</text>
<text x="0" y="0" font-size="3.8" fill="#333" text-anchor="middle" dominant-baseline="central" transform="translate(387.2,22.7) rotate(-90)">80</text>
<text x="387.2" y="66.3" font-size="3.0" text-anchor="middle" font-weight="normal" fill="#333" dominant-baseline="central" stroke="#333" stroke-width="0.1">0</text>
<path d="M459.6,21.1H515.8V66.3" stroke="#888" stroke-width="0.6" fill="none"/>
<path d="M459.6,66.3V21.1" stroke="#777" stroke-width="0.9" fill="none"/>
<path d="M477.0,66.3L477.0,66.3L480.4,63.5L483.2,59.4L486.0,53.3L488.0,43.6L489.7,49.1L492.0,54.6L495.0,60.1L498.9,63.5L503.3,65.2L508.8,64.6L513.0,65.3L515.2,66.3Z" fill="#4a4a4a" stroke="#1a1a1a" stroke-width="0.5" stroke-linejoin="round"/>
<path d="M459.6,66.3H515.8" stroke="#333" stroke-width="0.8"/>
<path d="M459.6,66.3v0.9M461.5,66.3v0.9M463.3,66.3v0.9M465.2,66.3v0.9M467.1,66.3v0.9M469.0,66.3v0.9M470.8,66.3v0.9M472.7,66.3v0.9M474.6,66.3v0.9M476.5,66.3v0.9M478.3,66.3v0.9M480.2,66.3v0.9M482.1,66.3v0.9M484.0,66.3v0.9M485.8,66.3v0.9M487.7,66.3v0.9M489.6,66.3v0.9M491.4,66.3v0.9M493.3,66.3v0.9M495.2,66.3v0.9M497.1,66.3v0.9M498.9,66.3v0.9M500.8,66.3v0.9M502.7,66.3v0.9M504.6,66.3v0.9M506.4,66.3v0.9M508.3,66.3v0.9M510.2,66.3v0.9M512.1,66.3v0.9M513.9,66.3v0.9M515.8,66.3v0.9" stroke="#666" stroke-width="0.3"/>
<path d="M459.6,66.3v1.6M478.3,66.3v1.6M497.1,66.3v1.6M515.8,66.3v1.6" stroke="#555" stroke-width="0.4"/>
<path d="M458.6,21.1h1M458.6,26.8h1M458.6,32.4h1M458.6,38.1h1M458.6,43.7h1M458.6,49.4h1M458.6,55.0h1M458.6,60.7h1M458.6,66.3h1" stroke="#777" stroke-width="0.3"/>
<path d="M476.7,32.8H515.8M476.7,30.0v5.6M492.7,30.0v5.6M504.1,30.0v5.6" stroke="#333" stroke-width="0.7" fill="none"/>
<text x="484.7" y="28.4" font-size="4.4" text-anchor="middle" font-weight="normal" fill="#333" dominant-baseline="central"   textLength="8.10" lengthAdjust="spacingAndGlyphs">79%</text>
<text x="498.4" y="28.4" font-size="4.4" text-anchor="middle" font-weight="normal" fill="#333" dominant-baseline="central"   textLength="8.10" lengthAdjust="spacingAndGlyphs">16%</text>
<text x="510.0" y="28.4" font-size="4.4" text-anchor="middle" font-weight="normal" fill="#333" dominant-baseline="central"   textLength="5.85" lengthAdjust="spacingAndGlyphs">7%</text>
<text x="484.7" y="36.4" font-size="3.0" text-anchor="middle" font-weight="normal" fill="#666" dominant-baseline="central"   textLength="3.54" lengthAdjust="spacingAndGlyphs">M3</text>
<text x="498.4" y="36.4" font-size="3.0" text-anchor="middle" font-weight="normal" fill="#666" dominant-baseline="central"   textLength="3.54" lengthAdjust="spacingAndGlyphs">M2</text>
<text x="510.0" y="36.4" font-size="3.0" text-anchor="middle" font-weight="normal" fill="#666" dominant-baseline="central"   textLength="3.54" lengthAdjust="spacingAndGlyphs">M1</text>
<text x="458.8" y="71.7" font-size="4.0" text-anchor="middle" font-weight="normal" fill="#444" dominant-baseline="central" stroke="#444" stroke-width="0.1">10</text>
<text x="461.7" y="70.0" font-size="2.8" text-anchor="middle" font-weight="normal" fill="#444" dominant-baseline="central" stroke="#444" stroke-width="0.1">1</text>
<text x="477.5" y="71.7" font-size="4.0" text-anchor="middle" font-weight="normal" fill="#444" dominant-baseline="central" stroke="#444" stroke-width="0.1">10</text>
<text x="480.4" y="70.0" font-size="2.8" text-anchor="middle" font-weight="normal" fill="#444" dominant-baseline="central" stroke="#444" stroke-width="0.1">2</text>
<text x="496.3" y="71.7" font-size="4.0" text-anchor="middle" font-weight="normal" fill="#444" dominant-baseline="central" stroke="#444" stroke-width="0.1">10</text>
<text x="499.2" y="70.0" font-size="2.8" text-anchor="middle" font-weight="normal" fill="#444" dominant-baseline="central" stroke="#444" stroke-width="0.1">3</text>
<text x="515.0" y="71.7" font-size="4.0" text-anchor="middle" font-weight="normal" fill="#444" dominant-baseline="central" stroke="#444" stroke-width="0.1">10</text>
<text x="517.9" y="70.0" font-size="2.8" text-anchor="middle" font-weight="normal" fill="#444" dominant-baseline="central" stroke="#444" stroke-width="0.1">4</text>
<text x="0" y="0" font-size="3.8" fill="#333" text-anchor="middle" dominant-baseline="central" transform="translate(455.4,22.7) rotate(-90)">80</text>
<text x="455.4" y="66.3" font-size="3.0" text-anchor="middle" font-weight="normal" fill="#333" dominant-baseline="central" stroke="#333" stroke-width="0.1">0</text>
<path d="M324.5,79.0H380.7V124.2" stroke="#888" stroke-width="0.6" fill="none"/>
<path d="M324.5,124.2V79.0" stroke="#777" stroke-width="0.9" fill="none"/>
<path d="M358.2,124.2L358.2,124.2L362.4,122.1L364.5,116.7L365.9,110.9L367.2,112.3L368.6,109.5L370.9,107.3L372.7,109.1L374.8,109.5L376.4,113.9L378.2,120.8L379.6,124.2Z" fill="#4a4a4a" stroke="#1a1a1a" stroke-width="0.5" stroke-linejoin="round"/>
<path d="M380.5,124.2v-22.0" stroke="#333" stroke-width="0.9"/>
<path d="M324.5,124.2H380.7" stroke="#333" stroke-width="0.8"/>
<path d="M324.5,124.2v0.9M326.4,124.2v0.9M328.2,124.2v0.9M330.1,124.2v0.9M332.0,124.2v0.9M333.9,124.2v0.9M335.7,124.2v0.9M337.6,124.2v0.9M339.5,124.2v0.9M341.4,124.2v0.9M343.2,124.2v0.9M345.1,124.2v0.9M347.0,124.2v0.9M348.9,124.2v0.9M350.7,124.2v0.9M352.6,124.2v0.9M354.5,124.2v0.9M356.3,124.2v0.9M358.2,124.2v0.9M360.1,124.2v0.9M362.0,124.2v0.9M363.8,124.2v0.9M365.7,124.2v0.9M367.6,124.2v0.9M369.5,124.2v0.9M371.3,124.2v0.9M373.2,124.2v0.9M375.1,124.2v0.9M377.0,124.2v0.9M378.8,124.2v0.9M380.7,124.2v0.9" stroke="#666" stroke-width="0.3"/>
<path d="M324.5,124.2v1.6M343.2,124.2v1.6M362.0,124.2v1.6M380.7,124.2v1.6" stroke="#555" stroke-width="0.4"/>
<path d="M323.5,79.0h1M323.5,84.7h1M323.5,90.3h1M323.5,96.0h1M323.5,101.6h1M323.5,107.2h1M323.5,112.9h1M323.5,118.6h1M323.5,124.2h1" stroke="#777" stroke-width="0.3"/>
<path d="M340.6,90.6H380.7M340.6,87.8v5.6M357.3,87.8v5.6M369.1,87.8v5.6" stroke="#333" stroke-width="0.7" fill="none"/>
<text x="348.9" y="86.2" font-size="4.4" text-anchor="middle" font-weight="normal" fill="#333" dominant-baseline="central"   textLength="5.85" lengthAdjust="spacingAndGlyphs">0%</text>
<text x="363.2" y="86.2" font-size="4.4" text-anchor="middle" font-weight="normal" fill="#333" dominant-baseline="central"   textLength="8.10" lengthAdjust="spacingAndGlyphs">36%</text>
<text x="374.9" y="86.2" font-size="4.4" text-anchor="middle" font-weight="normal" fill="#333" dominant-baseline="central"   textLength="8.10" lengthAdjust="spacingAndGlyphs">65%</text>
<text x="348.9" y="94.2" font-size="3.0" text-anchor="middle" font-weight="normal" fill="#666" dominant-baseline="central"   textLength="3.54" lengthAdjust="spacingAndGlyphs">M3</text>
<text x="363.2" y="94.2" font-size="3.0" text-anchor="middle" font-weight="normal" fill="#666" dominant-baseline="central"   textLength="3.54" lengthAdjust="spacingAndGlyphs">M2</text>
<text x="374.9" y="94.2" font-size="3.0" text-anchor="middle" font-weight="normal" fill="#666" dominant-baseline="central"   textLength="3.54" lengthAdjust="spacingAndGlyphs">M1</text>
<text x="323.7" y="129.6" font-size="4.0" text-anchor="middle" font-weight="normal" fill="#444" dominant-baseline="central" stroke="#444" stroke-width="0.1">10</text>
<text x="326.6" y="127.9" font-size="2.8" text-anchor="middle" font-weight="normal" fill="#444" dominant-baseline="central" stroke="#444" stroke-width="0.1">1</text>
<text x="342.4" y="129.6" font-size="4.0" text-anchor="middle" font-weight="normal" fill="#444" dominant-baseline="central" stroke="#444" stroke-width="0.1">10</text>
<text x="345.3" y="127.9" font-size="2.8" text-anchor="middle" font-weight="normal" fill="#444" dominant-baseline="central" stroke="#444" stroke-width="0.1">2</text>
<text x="361.2" y="129.6" font-size="4.0" text-anchor="middle" font-weight="normal" fill="#444" dominant-baseline="central" stroke="#444" stroke-width="0.1">10</text>
<text x="364.1" y="127.9" font-size="2.8" text-anchor="middle" font-weight="normal" fill="#444" dominant-baseline="central" stroke="#444" stroke-width="0.1">3</text>
<text x="379.9" y="129.6" font-size="4.0" text-anchor="middle" font-weight="normal" fill="#444" dominant-baseline="central" stroke="#444" stroke-width="0.1">10</text>
<text x="382.8" y="127.9" font-size="2.8" text-anchor="middle" font-weight="normal" fill="#444" dominant-baseline="central" stroke="#444" stroke-width="0.1">4</text>
<text x="0" y="0" font-size="3.8" fill="#333" text-anchor="middle" dominant-baseline="central" transform="translate(320.3,80.6) rotate(-90)">80</text>
<text x="320.3" y="124.2" font-size="3.0" text-anchor="middle" font-weight="normal" fill="#333" dominant-baseline="central" stroke="#333" stroke-width="0.1">0</text>
<text x="0" y="0" font-size="4.0" fill="#333" text-anchor="middle" dominant-baseline="central" transform="translate(316.0,102.4) rotate(-90)">Counts</text>
<path d="M391.4,79.0H447.6V124.2" stroke="#888" stroke-width="0.6" fill="none"/>
<path d="M391.4,124.2V79.0" stroke="#777" stroke-width="0.9" fill="none"/>
<path d="M412.8,124.2L412.8,124.2L416.1,122.5L418.2,119.8L420.6,118.4L422.9,119.1L425.0,117.0L427.4,114.3L429.1,115.7L431.1,115.7L433.9,118.4L436.6,118.4L439.3,117.0L441.7,116.1L443.5,118.4L445.5,122.5L447.0,124.2Z" fill="#4a4a4a" stroke="#1a1a1a" stroke-width="0.5" stroke-linejoin="round"/>
<path d="M447.4,124.2v-12.6" stroke="#333" stroke-width="0.9"/>
<path d="M391.4,124.2H447.6" stroke="#333" stroke-width="0.8"/>
<path d="M391.4,124.2v0.9M393.3,124.2v0.9M395.1,124.2v0.9M397.0,124.2v0.9M398.9,124.2v0.9M400.8,124.2v0.9M402.6,124.2v0.9M404.5,124.2v0.9M406.4,124.2v0.9M408.3,124.2v0.9M410.1,124.2v0.9M412.0,124.2v0.9M413.9,124.2v0.9M415.8,124.2v0.9M417.6,124.2v0.9M419.5,124.2v0.9M421.4,124.2v0.9M423.2,124.2v0.9M425.1,124.2v0.9M427.0,124.2v0.9M428.9,124.2v0.9M430.7,124.2v0.9M432.6,124.2v0.9M434.5,124.2v0.9M436.4,124.2v0.9M438.2,124.2v0.9M440.1,124.2v0.9M442.0,124.2v0.9M443.9,124.2v0.9M445.7,124.2v0.9M447.6,124.2v0.9" stroke="#666" stroke-width="0.3"/>
<path d="M391.4,124.2v1.6M410.1,124.2v1.6M428.9,124.2v1.6M447.6,124.2v1.6" stroke="#555" stroke-width="0.4"/>
<path d="M390.4,79.0h1M390.4,84.7h1M390.4,90.3h1M390.4,96.0h1M390.4,101.6h1M390.4,107.2h1M390.4,112.9h1M390.4,118.6h1M390.4,124.2h1" stroke="#777" stroke-width="0.3"/>
<path d="M408.3,90.3H447.6M408.3,87.5v5.6M424.8,87.5v5.6M435.7,87.5v5.6" stroke="#333" stroke-width="0.7" fill="none"/>
<text x="416.5" y="85.9" font-size="4.4" text-anchor="middle" font-weight="normal" fill="#333" dominant-baseline="central"   textLength="8.10" lengthAdjust="spacingAndGlyphs">24%</text>
<text x="430.2" y="85.9" font-size="4.4" text-anchor="middle" font-weight="normal" fill="#333" dominant-baseline="central"   textLength="8.10" lengthAdjust="spacingAndGlyphs">44%</text>
<text x="441.6" y="85.9" font-size="4.4" text-anchor="middle" font-weight="normal" fill="#333" dominant-baseline="central"   textLength="8.10" lengthAdjust="spacingAndGlyphs">32%</text>
<text x="416.5" y="93.9" font-size="3.0" text-anchor="middle" font-weight="normal" fill="#666" dominant-baseline="central"   textLength="3.54" lengthAdjust="spacingAndGlyphs">M3</text>
<text x="430.2" y="93.9" font-size="3.0" text-anchor="middle" font-weight="normal" fill="#666" dominant-baseline="central"   textLength="3.54" lengthAdjust="spacingAndGlyphs">M2</text>
<text x="441.6" y="93.9" font-size="3.0" text-anchor="middle" font-weight="normal" fill="#666" dominant-baseline="central"   textLength="3.54" lengthAdjust="spacingAndGlyphs">M1</text>
<text x="390.6" y="129.6" font-size="4.0" text-anchor="middle" font-weight="normal" fill="#444" dominant-baseline="central" stroke="#444" stroke-width="0.1">10</text>
<text x="393.5" y="127.9" font-size="2.8" text-anchor="middle" font-weight="normal" fill="#444" dominant-baseline="central" stroke="#444" stroke-width="0.1">1</text>
<text x="409.3" y="129.6" font-size="4.0" text-anchor="middle" font-weight="normal" fill="#444" dominant-baseline="central" stroke="#444" stroke-width="0.1">10</text>
<text x="412.2" y="127.9" font-size="2.8" text-anchor="middle" font-weight="normal" fill="#444" dominant-baseline="central" stroke="#444" stroke-width="0.1">2</text>
<text x="428.1" y="129.6" font-size="4.0" text-anchor="middle" font-weight="normal" fill="#444" dominant-baseline="central" stroke="#444" stroke-width="0.1">10</text>
<text x="431.0" y="127.9" font-size="2.8" text-anchor="middle" font-weight="normal" fill="#444" dominant-baseline="central" stroke="#444" stroke-width="0.1">3</text>
<text x="446.8" y="129.6" font-size="4.0" text-anchor="middle" font-weight="normal" fill="#444" dominant-baseline="central" stroke="#444" stroke-width="0.1">10</text>
<text x="449.7" y="127.9" font-size="2.8" text-anchor="middle" font-weight="normal" fill="#444" dominant-baseline="central" stroke="#444" stroke-width="0.1">4</text>
<text x="0" y="0" font-size="3.8" fill="#333" text-anchor="middle" dominant-baseline="central" transform="translate(387.2,80.6) rotate(-90)">80</text>
<text x="387.2" y="124.2" font-size="3.0" text-anchor="middle" font-weight="normal" fill="#333" dominant-baseline="central" stroke="#333" stroke-width="0.1">0</text>
<path d="M459.6,79.0H515.8V124.2" stroke="#888" stroke-width="0.6" fill="none"/>
<path d="M459.6,124.2V79.0" stroke="#777" stroke-width="0.9" fill="none"/>
<path d="M478.1,124.2L478.1,124.2L481.5,120.2L484.9,116.5L488.3,113.0L490.8,115.8L493.9,116.7L495.8,119.0L498.4,117.5L500.9,120.0L504.0,121.2L506.5,118.3L509.1,116.2L511.6,119.0L514.1,123.2L515.2,124.2Z" fill="#4a4a4a" stroke="#1a1a1a" stroke-width="0.5" stroke-linejoin="round"/>
<path d="M515.6,124.2v-16.0" stroke="#333" stroke-width="0.9"/>
<path d="M459.6,124.2H515.8" stroke="#333" stroke-width="0.8"/>
<path d="M459.6,124.2v0.9M461.5,124.2v0.9M463.3,124.2v0.9M465.2,124.2v0.9M467.1,124.2v0.9M469.0,124.2v0.9M470.8,124.2v0.9M472.7,124.2v0.9M474.6,124.2v0.9M476.5,124.2v0.9M478.3,124.2v0.9M480.2,124.2v0.9M482.1,124.2v0.9M484.0,124.2v0.9M485.8,124.2v0.9M487.7,124.2v0.9M489.6,124.2v0.9M491.4,124.2v0.9M493.3,124.2v0.9M495.2,124.2v0.9M497.1,124.2v0.9M498.9,124.2v0.9M500.8,124.2v0.9M502.7,124.2v0.9M504.6,124.2v0.9M506.4,124.2v0.9M508.3,124.2v0.9M510.2,124.2v0.9M512.1,124.2v0.9M513.9,124.2v0.9M515.8,124.2v0.9" stroke="#666" stroke-width="0.3"/>
<path d="M459.6,124.2v1.6M478.3,124.2v1.6M497.1,124.2v1.6M515.8,124.2v1.6" stroke="#555" stroke-width="0.4"/>
<path d="M458.6,79.0h1M458.6,84.7h1M458.6,90.3h1M458.6,96.0h1M458.6,101.6h1M458.6,107.2h1M458.6,112.9h1M458.6,118.6h1M458.6,124.2h1" stroke="#777" stroke-width="0.3"/>
<path d="M475.6,89.4H515.8M475.6,86.6v5.6M492.5,86.6v5.6M504.0,86.6v5.6" stroke="#333" stroke-width="0.7" fill="none"/>
<text x="484.1" y="85.0" font-size="4.4" text-anchor="middle" font-weight="normal" fill="#333" dominant-baseline="central"   textLength="8.10" lengthAdjust="spacingAndGlyphs">48%</text>
<text x="498.2" y="85.0" font-size="4.4" text-anchor="middle" font-weight="normal" fill="#333" dominant-baseline="central"   textLength="8.10" lengthAdjust="spacingAndGlyphs">28%</text>
<text x="509.9" y="85.0" font-size="4.4" text-anchor="middle" font-weight="normal" fill="#333" dominant-baseline="central"   textLength="8.10" lengthAdjust="spacingAndGlyphs">24%</text>
<text x="484.1" y="93.0" font-size="3.0" text-anchor="middle" font-weight="normal" fill="#666" dominant-baseline="central"   textLength="3.54" lengthAdjust="spacingAndGlyphs">M3</text>
<text x="498.2" y="93.0" font-size="3.0" text-anchor="middle" font-weight="normal" fill="#666" dominant-baseline="central"   textLength="3.54" lengthAdjust="spacingAndGlyphs">M2</text>
<text x="509.9" y="93.0" font-size="3.0" text-anchor="middle" font-weight="normal" fill="#666" dominant-baseline="central"   textLength="3.54" lengthAdjust="spacingAndGlyphs">M1</text>
<text x="458.8" y="129.6" font-size="4.0" text-anchor="middle" font-weight="normal" fill="#444" dominant-baseline="central" stroke="#444" stroke-width="0.1">10</text>
<text x="461.7" y="127.9" font-size="2.8" text-anchor="middle" font-weight="normal" fill="#444" dominant-baseline="central" stroke="#444" stroke-width="0.1">1</text>
<text x="477.5" y="129.6" font-size="4.0" text-anchor="middle" font-weight="normal" fill="#444" dominant-baseline="central" stroke="#444" stroke-width="0.1">10</text>
<text x="480.4" y="127.9" font-size="2.8" text-anchor="middle" font-weight="normal" fill="#444" dominant-baseline="central" stroke="#444" stroke-width="0.1">2</text>
<text x="496.3" y="129.6" font-size="4.0" text-anchor="middle" font-weight="normal" fill="#444" dominant-baseline="central" stroke="#444" stroke-width="0.1">10</text>
<text x="499.2" y="127.9" font-size="2.8" text-anchor="middle" font-weight="normal" fill="#444" dominant-baseline="central" stroke="#444" stroke-width="0.1">3</text>
<text x="515.0" y="129.6" font-size="4.0" text-anchor="middle" font-weight="normal" fill="#444" dominant-baseline="central" stroke="#444" stroke-width="0.1">10</text>
<text x="517.9" y="127.9" font-size="2.8" text-anchor="middle" font-weight="normal" fill="#444" dominant-baseline="central" stroke="#444" stroke-width="0.1">4</text>
<text x="0" y="0" font-size="3.8" fill="#333" text-anchor="middle" dominant-baseline="central" transform="translate(455.4,80.6) rotate(-90)">80</text>
<text x="455.4" y="124.2" font-size="3.0" text-anchor="middle" font-weight="normal" fill="#333" dominant-baseline="central" stroke="#333" stroke-width="0.1">0</text>
<path d="M324.5,136.4H380.7V181.6" stroke="#888" stroke-width="0.6" fill="none"/>
<path d="M324.5,181.6V136.4" stroke="#777" stroke-width="0.9" fill="none"/>
<path d="M358.2,181.6L358.2,181.6L363.1,179.9L365.9,177.2L368.6,172.4L371.3,167.6L374.1,163.5L376.1,166.9L378.2,174.5L380.0,179.9L380.7,181.6Z" fill="#4a4a4a" stroke="#1a1a1a" stroke-width="0.5" stroke-linejoin="round"/>
<path d="M380.5,181.6v-20.0" stroke="#333" stroke-width="0.9"/>
<path d="M324.5,181.6H380.7" stroke="#333" stroke-width="0.8"/>
<path d="M324.5,181.6v0.9M326.4,181.6v0.9M328.2,181.6v0.9M330.1,181.6v0.9M332.0,181.6v0.9M333.9,181.6v0.9M335.7,181.6v0.9M337.6,181.6v0.9M339.5,181.6v0.9M341.4,181.6v0.9M343.2,181.6v0.9M345.1,181.6v0.9M347.0,181.6v0.9M348.9,181.6v0.9M350.7,181.6v0.9M352.6,181.6v0.9M354.5,181.6v0.9M356.3,181.6v0.9M358.2,181.6v0.9M360.1,181.6v0.9M362.0,181.6v0.9M363.8,181.6v0.9M365.7,181.6v0.9M367.6,181.6v0.9M369.5,181.6v0.9M371.3,181.6v0.9M373.2,181.6v0.9M375.1,181.6v0.9M377.0,181.6v0.9M378.8,181.6v0.9M380.7,181.6v0.9" stroke="#666" stroke-width="0.3"/>
<path d="M324.5,181.6v1.6M343.2,181.6v1.6M362.0,181.6v1.6M380.7,181.6v1.6" stroke="#555" stroke-width="0.4"/>
<path d="M323.5,136.4h1M323.5,142.1h1M323.5,147.7h1M323.5,153.4h1M323.5,159.0h1M323.5,164.7h1M323.5,170.3h1M323.5,176.0h1M323.5,181.6h1" stroke="#777" stroke-width="0.3"/>
<path d="M340.6,147.4H380.7M340.6,144.6v5.6M357.3,144.6v5.6M369.1,144.6v5.6" stroke="#333" stroke-width="0.7" fill="none"/>
<text x="348.9" y="143.0" font-size="4.4" text-anchor="middle" font-weight="normal" fill="#333" dominant-baseline="central"   textLength="5.85" lengthAdjust="spacingAndGlyphs">0%</text>
<text x="363.2" y="143.0" font-size="4.4" text-anchor="middle" font-weight="normal" fill="#333" dominant-baseline="central"   textLength="8.10" lengthAdjust="spacingAndGlyphs">19%</text>
<text x="374.9" y="143.0" font-size="4.4" text-anchor="middle" font-weight="normal" fill="#333" dominant-baseline="central"   textLength="8.10" lengthAdjust="spacingAndGlyphs">83%</text>
<text x="348.9" y="151.0" font-size="3.0" text-anchor="middle" font-weight="normal" fill="#666" dominant-baseline="central"   textLength="3.54" lengthAdjust="spacingAndGlyphs">M3</text>
<text x="363.2" y="151.0" font-size="3.0" text-anchor="middle" font-weight="normal" fill="#666" dominant-baseline="central"   textLength="3.54" lengthAdjust="spacingAndGlyphs">M2</text>
<text x="374.9" y="151.0" font-size="3.0" text-anchor="middle" font-weight="normal" fill="#666" dominant-baseline="central"   textLength="3.54" lengthAdjust="spacingAndGlyphs">M1</text>
<text x="323.7" y="187.0" font-size="4.0" text-anchor="middle" font-weight="normal" fill="#444" dominant-baseline="central" stroke="#444" stroke-width="0.1">10</text>
<text x="326.6" y="185.3" font-size="2.8" text-anchor="middle" font-weight="normal" fill="#444" dominant-baseline="central" stroke="#444" stroke-width="0.1">1</text>
<text x="342.4" y="187.0" font-size="4.0" text-anchor="middle" font-weight="normal" fill="#444" dominant-baseline="central" stroke="#444" stroke-width="0.1">10</text>
<text x="345.3" y="185.3" font-size="2.8" text-anchor="middle" font-weight="normal" fill="#444" dominant-baseline="central" stroke="#444" stroke-width="0.1">2</text>
<text x="361.2" y="187.0" font-size="4.0" text-anchor="middle" font-weight="normal" fill="#444" dominant-baseline="central" stroke="#444" stroke-width="0.1">10</text>
<text x="364.1" y="185.3" font-size="2.8" text-anchor="middle" font-weight="normal" fill="#444" dominant-baseline="central" stroke="#444" stroke-width="0.1">3</text>
<text x="379.9" y="187.0" font-size="4.0" text-anchor="middle" font-weight="normal" fill="#444" dominant-baseline="central" stroke="#444" stroke-width="0.1">10</text>
<text x="382.8" y="185.3" font-size="2.8" text-anchor="middle" font-weight="normal" fill="#444" dominant-baseline="central" stroke="#444" stroke-width="0.1">4</text>
<text x="0" y="0" font-size="3.8" fill="#333" text-anchor="middle" dominant-baseline="central" transform="translate(320.3,138.0) rotate(-90)">80</text>
<text x="320.3" y="181.6" font-size="3.0" text-anchor="middle" font-weight="normal" fill="#333" dominant-baseline="central" stroke="#333" stroke-width="0.1">0</text>
<text x="0" y="0" font-size="4.0" fill="#333" text-anchor="middle" dominant-baseline="central" transform="translate(316.0,159.8) rotate(-90)">Counts</text>
<text x="352.8" y="191.2" font-size="4.5" text-anchor="middle" font-weight="normal" fill="#333" dominant-baseline="central" stroke="#333" stroke-width="0.1">FL1-Height</text>
<path d="M391.4,136.4H447.6V181.6" stroke="#888" stroke-width="0.6" fill="none"/>
<path d="M391.4,181.6V136.4" stroke="#777" stroke-width="0.9" fill="none"/>
<path d="M412.8,181.6L412.8,181.6L420.8,180.6L426.2,179.3L430.5,176.9L433.9,175.1L436.6,173.1L438.7,170.3L440.7,164.9L441.7,163.8L443.5,169.7L445.5,178.6L446.8,181.6Z" fill="#4a4a4a" stroke="#1a1a1a" stroke-width="0.5" stroke-linejoin="round"/>
<path d="M447.4,181.6v-23.0" stroke="#333" stroke-width="0.9"/>
<path d="M391.4,181.6H447.6" stroke="#333" stroke-width="0.8"/>
<path d="M391.4,181.6v0.9M393.3,181.6v0.9M395.1,181.6v0.9M397.0,181.6v0.9M398.9,181.6v0.9M400.8,181.6v0.9M402.6,181.6v0.9M404.5,181.6v0.9M406.4,181.6v0.9M408.3,181.6v0.9M410.1,181.6v0.9M412.0,181.6v0.9M413.9,181.6v0.9M415.8,181.6v0.9M417.6,181.6v0.9M419.5,181.6v0.9M421.4,181.6v0.9M423.2,181.6v0.9M425.1,181.6v0.9M427.0,181.6v0.9M428.9,181.6v0.9M430.7,181.6v0.9M432.6,181.6v0.9M434.5,181.6v0.9M436.4,181.6v0.9M438.2,181.6v0.9M440.1,181.6v0.9M442.0,181.6v0.9M443.9,181.6v0.9M445.7,181.6v0.9M447.6,181.6v0.9" stroke="#666" stroke-width="0.3"/>
<path d="M391.4,181.6v1.6M410.1,181.6v1.6M428.9,181.6v1.6M447.6,181.6v1.6" stroke="#555" stroke-width="0.4"/>
<path d="M390.4,136.4h1M390.4,142.1h1M390.4,147.7h1M390.4,153.4h1M390.4,159.0h1M390.4,164.7h1M390.4,170.3h1M390.4,176.0h1M390.4,181.6h1" stroke="#777" stroke-width="0.3"/>
<path d="M408.3,148.1H447.6M408.3,145.3v5.6M425.0,145.3v5.6M436.0,145.3v5.6" stroke="#333" stroke-width="0.7" fill="none"/>
<text x="416.6" y="143.7" font-size="4.4" text-anchor="middle" font-weight="normal" fill="#333" dominant-baseline="central"   textLength="5.85" lengthAdjust="spacingAndGlyphs">2%</text>
<text x="430.5" y="143.7" font-size="4.4" text-anchor="middle" font-weight="normal" fill="#333" dominant-baseline="central"   textLength="8.10" lengthAdjust="spacingAndGlyphs">26%</text>
<text x="441.8" y="143.7" font-size="4.4" text-anchor="middle" font-weight="normal" fill="#333" dominant-baseline="central"   textLength="8.10" lengthAdjust="spacingAndGlyphs">72%</text>
<text x="416.6" y="151.7" font-size="3.0" text-anchor="middle" font-weight="normal" fill="#666" dominant-baseline="central"   textLength="3.54" lengthAdjust="spacingAndGlyphs">M3</text>
<text x="430.5" y="151.7" font-size="3.0" text-anchor="middle" font-weight="normal" fill="#666" dominant-baseline="central"   textLength="3.54" lengthAdjust="spacingAndGlyphs">M2</text>
<text x="441.8" y="151.7" font-size="3.0" text-anchor="middle" font-weight="normal" fill="#666" dominant-baseline="central"   textLength="3.54" lengthAdjust="spacingAndGlyphs">M1</text>
<text x="390.6" y="187.0" font-size="4.0" text-anchor="middle" font-weight="normal" fill="#444" dominant-baseline="central" stroke="#444" stroke-width="0.1">10</text>
<text x="393.5" y="185.3" font-size="2.8" text-anchor="middle" font-weight="normal" fill="#444" dominant-baseline="central" stroke="#444" stroke-width="0.1">1</text>
<text x="409.3" y="187.0" font-size="4.0" text-anchor="middle" font-weight="normal" fill="#444" dominant-baseline="central" stroke="#444" stroke-width="0.1">10</text>
<text x="412.2" y="185.3" font-size="2.8" text-anchor="middle" font-weight="normal" fill="#444" dominant-baseline="central" stroke="#444" stroke-width="0.1">2</text>
<text x="428.1" y="187.0" font-size="4.0" text-anchor="middle" font-weight="normal" fill="#444" dominant-baseline="central" stroke="#444" stroke-width="0.1">10</text>
<text x="431.0" y="185.3" font-size="2.8" text-anchor="middle" font-weight="normal" fill="#444" dominant-baseline="central" stroke="#444" stroke-width="0.1">3</text>
<text x="446.8" y="187.0" font-size="4.0" text-anchor="middle" font-weight="normal" fill="#444" dominant-baseline="central" stroke="#444" stroke-width="0.1">10</text>
<text x="449.7" y="185.3" font-size="2.8" text-anchor="middle" font-weight="normal" fill="#444" dominant-baseline="central" stroke="#444" stroke-width="0.1">4</text>
<text x="0" y="0" font-size="3.8" fill="#333" text-anchor="middle" dominant-baseline="central" transform="translate(387.2,138.0) rotate(-90)">80</text>
<text x="387.2" y="181.6" font-size="3.0" text-anchor="middle" font-weight="normal" fill="#333" dominant-baseline="central" stroke="#333" stroke-width="0.1">0</text>
<text x="419.7" y="191.2" font-size="4.5" text-anchor="middle" font-weight="normal" fill="#333" dominant-baseline="central" stroke="#333" stroke-width="0.1">FL1-Height</text>
<path d="M459.6,136.4H515.8V181.6" stroke="#888" stroke-width="0.6" fill="none"/>
<path d="M459.6,181.6V136.4" stroke="#777" stroke-width="0.9" fill="none"/>
<path d="M484.9,181.6L484.9,181.6L488.3,181.1L496.5,180.6L500.6,178.6L504.0,176.9L506.8,167.6L508.9,157.3L511.0,163.6L513.0,173.1L514.7,180.6L515.5,181.6Z" fill="#4a4a4a" stroke="#1a1a1a" stroke-width="0.5" stroke-linejoin="round"/>
<path d="M459.6,181.6H515.8" stroke="#333" stroke-width="0.8"/>
<path d="M459.6,181.6v0.9M461.5,181.6v0.9M463.3,181.6v0.9M465.2,181.6v0.9M467.1,181.6v0.9M469.0,181.6v0.9M470.8,181.6v0.9M472.7,181.6v0.9M474.6,181.6v0.9M476.5,181.6v0.9M478.3,181.6v0.9M480.2,181.6v0.9M482.1,181.6v0.9M484.0,181.6v0.9M485.8,181.6v0.9M487.7,181.6v0.9M489.6,181.6v0.9M491.4,181.6v0.9M493.3,181.6v0.9M495.2,181.6v0.9M497.1,181.6v0.9M498.9,181.6v0.9M500.8,181.6v0.9M502.7,181.6v0.9M504.6,181.6v0.9M506.4,181.6v0.9M508.3,181.6v0.9M510.2,181.6v0.9M512.1,181.6v0.9M513.9,181.6v0.9M515.8,181.6v0.9" stroke="#666" stroke-width="0.3"/>
<path d="M459.6,181.6v1.6M478.3,181.6v1.6M497.1,181.6v1.6M515.8,181.6v1.6" stroke="#555" stroke-width="0.4"/>
<path d="M458.6,136.4h1M458.6,142.1h1M458.6,147.7h1M458.6,153.4h1M458.6,159.0h1M458.6,164.7h1M458.6,170.3h1M458.6,176.0h1M458.6,181.6h1" stroke="#777" stroke-width="0.3"/>
<path d="M475.6,147.0H515.8M475.6,144.2v5.6M492.3,144.2v5.6M503.7,144.2v5.6" stroke="#333" stroke-width="0.7" fill="none"/>
<text x="484.0" y="142.6" font-size="4.4" text-anchor="middle" font-weight="normal" fill="#333" dominant-baseline="central"   textLength="5.85" lengthAdjust="spacingAndGlyphs">1%</text>
<text x="498.0" y="142.6" font-size="4.4" text-anchor="middle" font-weight="normal" fill="#333" dominant-baseline="central"   textLength="8.10" lengthAdjust="spacingAndGlyphs">13%</text>
<text x="509.8" y="142.6" font-size="4.4" text-anchor="middle" font-weight="normal" fill="#333" dominant-baseline="central"   textLength="8.10" lengthAdjust="spacingAndGlyphs">85%</text>
<text x="484.0" y="150.6" font-size="3.0" text-anchor="middle" font-weight="normal" fill="#666" dominant-baseline="central"   textLength="3.54" lengthAdjust="spacingAndGlyphs">M3</text>
<text x="498.0" y="150.6" font-size="3.0" text-anchor="middle" font-weight="normal" fill="#666" dominant-baseline="central"   textLength="3.54" lengthAdjust="spacingAndGlyphs">M2</text>
<text x="509.8" y="150.6" font-size="3.0" text-anchor="middle" font-weight="normal" fill="#666" dominant-baseline="central"   textLength="3.54" lengthAdjust="spacingAndGlyphs">M1</text>
<text x="458.8" y="187.0" font-size="4.0" text-anchor="middle" font-weight="normal" fill="#444" dominant-baseline="central" stroke="#444" stroke-width="0.1">10</text>
<text x="461.7" y="185.3" font-size="2.8" text-anchor="middle" font-weight="normal" fill="#444" dominant-baseline="central" stroke="#444" stroke-width="0.1">1</text>
<text x="477.5" y="187.0" font-size="4.0" text-anchor="middle" font-weight="normal" fill="#444" dominant-baseline="central" stroke="#444" stroke-width="0.1">10</text>
<text x="480.4" y="185.3" font-size="2.8" text-anchor="middle" font-weight="normal" fill="#444" dominant-baseline="central" stroke="#444" stroke-width="0.1">2</text>
<text x="496.3" y="187.0" font-size="4.0" text-anchor="middle" font-weight="normal" fill="#444" dominant-baseline="central" stroke="#444" stroke-width="0.1">10</text>
<text x="499.2" y="185.3" font-size="2.8" text-anchor="middle" font-weight="normal" fill="#444" dominant-baseline="central" stroke="#444" stroke-width="0.1">3</text>
<text x="515.0" y="187.0" font-size="4.0" text-anchor="middle" font-weight="normal" fill="#444" dominant-baseline="central" stroke="#444" stroke-width="0.1">10</text>
<text x="517.9" y="185.3" font-size="2.8" text-anchor="middle" font-weight="normal" fill="#444" dominant-baseline="central" stroke="#444" stroke-width="0.1">4</text>
<text x="0" y="0" font-size="3.8" fill="#333" text-anchor="middle" dominant-baseline="central" transform="translate(455.4,138.0) rotate(-90)">80</text>
<text x="455.4" y="181.6" font-size="3.0" text-anchor="middle" font-weight="normal" fill="#333" dominant-baseline="central" stroke="#333" stroke-width="0.1">0</text>
<text x="487.9" y="191.2" font-size="4.5" text-anchor="middle" font-weight="normal" fill="#333" dominant-baseline="central" stroke="#333" stroke-width="0.1">FL1-Height</text>
<text x="1.8" y="211.2" font-size="11" font-weight="bold" fill="#000" dominant-baseline="central">C</text>
<text x="93.7" y="216.3" font-size="6.7" text-anchor="middle" font-weight="normal" fill="#111" dominant-baseline="central" stroke="#111" stroke-width="0.12">lysate</text>
<text x="71.3" y="224.3" font-size="7.4" text-anchor="middle" font-weight="normal" fill="#111" dominant-baseline="central" stroke="#111" stroke-width="0.12">CGP</text>
<text x="88.6" y="224.3" font-size="5.6" text-anchor="middle" font-weight="bold" fill="#111" dominant-baseline="central" >-</text>
<text x="98.2" y="224.3" font-size="5.6" text-anchor="middle" font-weight="bold" fill="#111" dominant-baseline="central" >+</text>
<rect x="84.0" y="231.0" width="19.4" height="35.0" fill="#d6d6d6"/>
<linearGradient id="gl1" gradientUnits="userSpaceOnUse" x1="0" y1="230.4" x2="0" y2="266.2"><stop offset="0.0000" stop-color="#eeeeee"/><stop offset="0.0279" stop-color="#aaa"/><stop offset="0.0587" stop-color="#888"/><stop offset="0.1006" stop-color="#777"/><stop offset="0.1564" stop-color="#8a8a8a"/><stop offset="0.1983" stop-color="#666"/><stop offset="0.2514" stop-color="#333"/><stop offset="0.2961" stop-color="#999"/><stop offset="0.3520" stop-color="#666"/><stop offset="0.3939" stop-color="#aaa"/><stop offset="0.4358" stop-color="#666"/><stop offset="0.4804" stop-color="#999"/><stop offset="0.5335" stop-color="#2a2a2a"/><stop offset="0.5754" stop-color="#999"/><stop offset="0.6313" stop-color="#bbb"/><stop offset="0.6872" stop-color="#c5c5c5"/><stop offset="0.7430" stop-color="#c0c0c0"/><stop offset="0.7961" stop-color="#aaa"/><stop offset="0.8492" stop-color="#c8c8c8"/><stop offset="0.8827" stop-color="#444"/><stop offset="0.9190" stop-color="#0a0a0a"/><stop offset="0.9553" stop-color="#222"/><stop offset="0.9832" stop-color="#bbb"/><stop offset="1.0000" stop-color="#f0f0f0"/></linearGradient>
<rect x="84.2" y="230.4" width="8.6" height="35.8" fill="url(#gl1)" filter="url(#bh)"/>
<rect x="94.0" y="230.4" width="9.2" height="35.8" fill="url(#gl1)" filter="url(#bh)"/>
<text x="82.6" y="239.5" font-size="4.0" text-anchor="end" font-weight="normal" fill="#111" dominant-baseline="central" stroke="#111" stroke-width="0.12">60 kDa-</text>
<text x="82.6" y="263.8" font-size="4.0" text-anchor="end" font-weight="normal" fill="#111" dominant-baseline="central" stroke="#111" stroke-width="0.12">38 kDa-</text>
<text x="55.5" y="247.7" font-size="5.5" text-anchor="middle" font-weight="bold" fill="#111" dominant-baseline="central" >Anti-</text>
<text x="56.1" y="255.0" font-size="5.6" text-anchor="middle" font-weight="bold" fill="#111" dominant-baseline="central" >pY(4G10)</text>
<text x="167.7" y="216.4" font-size="7.4" text-anchor="middle" font-weight="normal" fill="#111" dominant-baseline="central" stroke="#111" stroke-width="0.12">R</text>
<text x="204.6" y="216.4" font-size="7.4" text-anchor="middle" font-weight="normal" fill="#111" dominant-baseline="central" stroke="#111" stroke-width="0.12">NR</text>
<text x="139.5" y="223.0" font-size="7.4" text-anchor="middle" font-weight="normal" fill="#111" dominant-baseline="central" stroke="#111" stroke-width="0.12">CGP</text>
<text x="159.6" y="223.8" font-size="5.6" text-anchor="middle" font-weight="bold" fill="#111" dominant-baseline="central" >-</text>
<text x="175.8" y="223.8" font-size="5.6" text-anchor="middle" font-weight="bold" fill="#111" dominant-baseline="central" >+</text>
<text x="196.5" y="223.8" font-size="5.6" text-anchor="middle" font-weight="bold" fill="#111" dominant-baseline="central" >-</text>
<text x="214.4" y="223.8" font-size="5.6" text-anchor="middle" font-weight="bold" fill="#111" dominant-baseline="central" >+</text>
<rect x="148.1" y="229.6" width="36.1" height="35.7" fill="#e0e0e0"/>
<rect x="188.2" y="230.0" width="33.8" height="35.3" fill="#e2e2e2"/>
<rect x="156.6" y="243.5" width="9.4" height="5.0" rx="2.0" fill="#aaa" filter="url(#b2)"/>
<rect x="155.6" y="234.2" width="10.2" height="10.0" rx="2.6" fill="#000" filter="url(#b1)"/>
<rect x="156.6" y="249.1" width="9.2" height="2.2" rx="1.1" fill="#777" filter="url(#b1)"/>
<rect x="156.0" y="253.3" width="9.8" height="3.4" rx="1.2" fill="#000" filter="url(#b1)"/>
<rect x="156.0" y="256.6" width="9.8" height="3.4" rx="1.2" fill="#080808" filter="url(#b1)"/>
<rect x="172.4" y="239.3" width="6.3" height="5.0" rx="2.5" fill="#aaa" filter="url(#b2)"/>
<rect x="172.4" y="254.7" width="6.3" height="1.2" rx="0.6" fill="#b8b8b8" filter="url(#b1)"/>
<rect x="172.4" y="258.0" width="6.3" height="1.4" rx="0.7" fill="#aaa" filter="url(#b1)"/>
<rect x="195.1" y="241.0" width="7.9" height="16.0" rx="2.0" fill="#c8c8c8" filter="url(#b2)"/>
<rect x="195.1" y="240.1" width="7.9" height="3.4" rx="1.7" fill="#888" filter="url(#b1)"/>
<rect x="195.1" y="248.2" width="7.9" height="3.0" rx="1.5" fill="#707070" filter="url(#b1)"/>
<rect x="195.1" y="253.8" width="7.9" height="3.2" rx="1.2" fill="#1a1a1a" filter="url(#b1)"/>
<rect x="195.1" y="256.8" width="7.9" height="3.2" rx="1.2" fill="#111" filter="url(#b1)"/>
<rect x="208.8" y="240.2" width="6.9" height="2.5" rx="1.2" fill="#ccc" filter="url(#b1)"/>
<rect x="208.8" y="254.7" width="6.9" height="1.6" rx="0.8" fill="#aaa" filter="url(#b1)"/>
<rect x="208.8" y="257.7" width="6.9" height="1.6" rx="0.8" fill="#999" filter="url(#b1)"/>
<text x="146.4" y="237.6" font-size="4.0" text-anchor="end" font-weight="normal" fill="#111" dominant-baseline="central" stroke="#111" stroke-width="0.12">60 kDa-</text>
<text x="132.2" y="247.9" font-size="5.5" text-anchor="middle" font-weight="bold" fill="#111" dominant-baseline="central" >Anti-</text>
<text x="132.1" y="255.0" font-size="5.6" text-anchor="middle" font-weight="bold" fill="#111" dominant-baseline="central" >pY(4G10)</text>
<text x="1.2" y="283.8" font-size="11" font-weight="bold" fill="#000" dominant-baseline="central">D</text>
<text x="73.3" y="283.2" font-size="7.4" text-anchor="middle" font-weight="normal" fill="#111" dominant-baseline="central" stroke="#111" stroke-width="0.12">R</text>
<text x="109.5" y="283.2" font-size="7.4" text-anchor="middle" font-weight="normal" fill="#111" dominant-baseline="central" stroke="#111" stroke-width="0.12">NR</text>
<text x="46.8" y="290.5" font-size="7.4" text-anchor="middle" font-weight="normal" fill="#111" dominant-baseline="central" stroke="#111" stroke-width="0.12">CGP</text>
<text x="64.8" y="290.9" font-size="5.6" text-anchor="middle" font-weight="bold" fill="#111" dominant-baseline="central" >-</text>
<text x="80.6" y="290.9" font-size="5.6" text-anchor="middle" font-weight="bold" fill="#111" dominant-baseline="central" >+</text>
<text x="101.6" y="290.9" font-size="5.6" text-anchor="middle" font-weight="bold" fill="#111" dominant-baseline="central" >-</text>
<text x="117.4" y="290.9" font-size="5.6" text-anchor="middle" font-weight="bold" fill="#111" dominant-baseline="central" >+</text>
<rect x="57.2" y="296.1" width="31.4" height="21.0" fill="#e6e6e6"/>
<rect x="93.3" y="296.1" width="31.5" height="21.0" fill="#e6e6e6"/>
<rect x="57.2" y="322.7" width="31.4" height="20.9" fill="#e6e6e6"/>
<rect x="93.3" y="322.7" width="31.5" height="20.9" fill="#e6e6e6"/>
<rect x="57.2" y="357.1" width="31.4" height="21.9" fill="#e6e6e6"/>
<rect x="93.3" y="356.8" width="31.5" height="22.2" fill="#e6e6e6"/>
<rect x="59.6" y="302.4" width="11.8" height="8.8" rx="2.6" fill="#000" filter="url(#b1)"/>
<path d="M96.2,310.6 L106.0,309.9 L106.0,312.8 L96.2,312.8 Z" fill="#111" filter="url(#b1)"/>
<rect x="59.8" y="327.2" width="11.9" height="6.5" rx="2.5" fill="#0a0a0a" filter="url(#b1)"/>
<rect x="60.0" y="334.0" width="11.4" height="5.0" rx="2.5" fill="#aaa" filter="url(#b2)"/>
<rect x="76.2" y="330.8" width="10.0" height="6.3" rx="2.5" fill="#0a0a0a" filter="url(#b1)"/>
<rect x="95.8" y="334.1" width="11.4" height="3.8" rx="1.2" fill="#0a0a0a" filter="url(#b1)"/>
<rect x="96.0" y="338.4" width="11.0" height="3.6" rx="1.8" fill="#888" filter="url(#b1)"/>
<rect x="111.3" y="333.8" width="11.8" height="4.0" rx="1.2" fill="#0a0a0a" filter="url(#b1)"/>
<rect x="111.5" y="338.9" width="11.5" height="2.2" rx="1.1" fill="#999" filter="url(#b1)"/>
<rect x="60.6" y="361.1" width="10.4" height="10.5" rx="3.0" fill="#666" filter="url(#b2)"/>
<rect x="61.5" y="362.5" width="8.5" height="5.0" rx="2.0" fill="#444" filter="url(#b2)"/>
<linearGradient id="gd3" gradientUnits="userSpaceOnUse" x1="0" y1="357.0" x2="0" y2="379.0"><stop offset="0.0000" stop-color="#d8d8d8"/><stop offset="0.0455" stop-color="#888"/><stop offset="0.1318" stop-color="#444"/><stop offset="0.2273" stop-color="#b0b0b0"/><stop offset="0.3273" stop-color="#3a3a3a"/><stop offset="0.4227" stop-color="#444"/><stop offset="0.5000" stop-color="#999"/><stop offset="0.5591" stop-color="#444"/><stop offset="0.6364" stop-color="#aaa"/><stop offset="0.7273" stop-color="#b0b0b0"/><stop offset="0.8182" stop-color="#aaa"/><stop offset="0.9091" stop-color="#b0b0b0"/><stop offset="1.0000" stop-color="#bbb"/></linearGradient>
<rect x="96.7" y="357.0" width="11.3" height="22.0" fill="url(#gd3)" filter="url(#bh)"/>
<linearGradient id="gd3b" gradientUnits="userSpaceOnUse" x1="0" y1="357.0" x2="0" y2="379.0"><stop offset="0.0000" stop-color="#d8d8d8"/><stop offset="0.0455" stop-color="#999"/><stop offset="0.1318" stop-color="#4a4a4a"/><stop offset="0.2273" stop-color="#bbb"/><stop offset="0.3273" stop-color="#4a4a4a"/><stop offset="0.4227" stop-color="#555"/><stop offset="0.5000" stop-color="#a5a5a5"/><stop offset="0.5591" stop-color="#555"/><stop offset="0.6364" stop-color="#b0b0b0"/><stop offset="0.7273" stop-color="#bbb"/><stop offset="0.8182" stop-color="#b5b5b5"/><stop offset="0.9091" stop-color="#bbb"/><stop offset="1.0000" stop-color="#c5c5c5"/></linearGradient>
<rect x="110.9" y="357.0" width="12.8" height="22.0" fill="url(#gd3b)" filter="url(#bh)"/>
<text x="55.6" y="306.9" font-size="4.0" text-anchor="end" font-weight="normal" fill="#111" dominant-baseline="central" stroke="#111" stroke-width="0.12">60 kDa-</text>
<text x="55.6" y="330.4" font-size="4.0" text-anchor="end" font-weight="normal" fill="#111" dominant-baseline="central" stroke="#111" stroke-width="0.12">60 kDa-</text>
<text x="55.0" y="367.0" font-size="4.0" text-anchor="end" font-weight="normal" fill="#111" dominant-baseline="central" stroke="#111" stroke-width="0.12">60 kDa-</text>
<text x="32.1" y="307.1" font-size="5.5" text-anchor="middle" font-weight="bold" fill="#111" dominant-baseline="central" >Anti-</text>
<text x="32.2" y="314.1" font-size="5.7" text-anchor="middle" font-weight="bold" fill="#111" dominant-baseline="central" >PAG pY317</text>
<text x="30.2" y="336.6" font-size="5.6" text-anchor="middle" font-weight="bold" fill="#111" dominant-baseline="central" >Anti-PAG</text>
<text x="31.5" y="372.3" font-size="5.75" text-anchor="middle" font-weight="bold" fill="#111" dominant-baseline="central" >Anti-pSTAT3</text>
<text x="139.0" y="283.8" font-size="11" font-weight="bold" fill="#000" dominant-baseline="central">E</text>
<text x="197.0" y="283.8" font-size="7.4" text-anchor="middle" font-weight="normal" fill="#111" dominant-baseline="central" stroke="#111" stroke-width="0.12">R</text>
<text x="231.5" y="283.8" font-size="7.4" text-anchor="middle" font-weight="normal" fill="#111" dominant-baseline="central" stroke="#111" stroke-width="0.12">NR</text>
<text x="170.3" y="290.7" font-size="7.4" text-anchor="middle" font-weight="normal" fill="#111" dominant-baseline="central" stroke="#111" stroke-width="0.12">CGP</text>
<text x="187.7" y="290.9" font-size="5.6" text-anchor="middle" font-weight="bold" fill="#111" dominant-baseline="central" >-</text>
<text x="204.2" y="290.9" font-size="5.6" text-anchor="middle" font-weight="bold" fill="#111" dominant-baseline="central" >+</text>
<text x="224.3" y="290.9" font-size="5.6" text-anchor="middle" font-weight="bold" fill="#111" dominant-baseline="central" >-</text>
<text x="240.1" y="290.9" font-size="5.6" text-anchor="middle" font-weight="bold" fill="#111" dominant-baseline="central" >+</text>
<rect x="180.1" y="296.1" width="31.7" height="28.2" fill="#e4e4e4"/>
<rect x="216.2" y="296.1" width="31.7" height="28.2" fill="#e4e4e4"/>
<rect x="180.1" y="328.4" width="31.7" height="27.0" fill="#e4e4e4"/>
<rect x="216.2" y="328.4" width="31.7" height="27.0" fill="#e4e4e4"/>
<rect x="180.1" y="360.5" width="31.7" height="17.6" fill="#e4e4e4"/>
<rect x="216.2" y="360.5" width="31.7" height="17.6" fill="#e4e4e4"/>
<rect x="184.4" y="300.9" width="9.5" height="6.6" rx="2.5" fill="#000" filter="url(#b1)"/>
<rect x="184.4" y="312.6" width="9.5" height="8.6" rx="2.0" fill="#000" filter="url(#b1)"/>
<rect x="185.0" y="315.7" width="8.4" height="0.6" rx="0.3" fill="#444" filter="url(#b1)"/>
<rect x="195.5" y="314.8" width="4.2" height="1.0" rx="0.5" fill="#aaa" filter="url(#b1)"/>
<rect x="220.4" y="313.6" width="10.3" height="2.4" rx="1.2" fill="#6a6a6a" filter="url(#b1)"/>
<rect x="220.4" y="317.0" width="10.3" height="2.6" rx="1.3" fill="#2a2a2a" filter="url(#b1)"/>
<rect x="220.4" y="319.8" width="10.3" height="2.6" rx="1.3" fill="#222" filter="url(#b1)"/>
<rect x="233.1" y="313.9" width="10.2" height="1.8" rx="0.9" fill="#aaa" filter="url(#b1)"/>
<rect x="233.1" y="317.3" width="10.2" height="2.0" rx="1.0" fill="#9a9a9a" filter="url(#b1)"/>
<rect x="233.1" y="320.1" width="10.2" height="2.0" rx="1.0" fill="#999" filter="url(#b1)"/>
<rect x="186.6" y="330.5" width="9.9" height="5.4" rx="1.8" fill="#000" filter="url(#b1)"/>
<rect x="184.8" y="348.1" width="10.2" height="2.4" rx="1.2" fill="#222" filter="url(#b1)"/>
<rect x="184.8" y="350.7" width="10.2" height="2.4" rx="1.2" fill="#222" filter="url(#b1)"/>
<rect x="200.1" y="349.6" width="8.1" height="1.4" rx="0.7" fill="#888" filter="url(#b1)"/>
<rect x="220.2" y="347.9" width="9.9" height="6.2" rx="2.0" fill="#0a0a0a" filter="url(#b1)"/>
<rect x="233.0" y="348.8" width="10.3" height="4.4" rx="2.2" fill="#aaa" filter="url(#b2)"/>
<rect x="185.5" y="366.3" width="10.7" height="2.6" rx="0.8" fill="#2a2a2a" filter="url(#b1)"/>
<rect x="185.5" y="370.7" width="10.7" height="2.6" rx="0.8" fill="#2a2a2a" filter="url(#b1)"/>
<rect x="199.1" y="366.3" width="9.8" height="2.6" rx="0.8" fill="#2a2a2a" filter="url(#b1)"/>
<rect x="199.1" y="370.7" width="9.8" height="2.6" rx="0.8" fill="#2a2a2a" filter="url(#b1)"/>
<rect x="222.0" y="366.3" width="10.3" height="2.6" rx="0.8" fill="#2a2a2a" filter="url(#b1)"/>
<rect x="222.0" y="370.7" width="10.3" height="2.6" rx="0.8" fill="#2a2a2a" filter="url(#b1)"/>
<rect x="233.0" y="366.3" width="11.4" height="2.6" rx="0.8" fill="#2a2a2a" filter="url(#b1)"/>
<rect x="233.0" y="370.7" width="11.4" height="2.6" rx="0.8" fill="#2a2a2a" filter="url(#b1)"/>
<text x="177.2" y="305.1" font-size="4.0" text-anchor="end" font-weight="normal" fill="#111" dominant-baseline="central" stroke="#111" stroke-width="0.12">60 kDa-</text>
<text x="177.2" y="334.1" font-size="4.0" text-anchor="end" font-weight="normal" fill="#111" dominant-baseline="central" stroke="#111" stroke-width="0.12">60 kDa-</text>
<text x="157.4" y="312.6" font-size="5.5" text-anchor="middle" font-weight="bold" fill="#111" dominant-baseline="central" >Anti-</text>
<text x="157.5" y="319.4" font-size="5.65" text-anchor="middle" font-weight="bold" fill="#111" dominant-baseline="central" >Src pY418</text>
<text x="157.4" y="344.3" font-size="5.5" text-anchor="middle" font-weight="bold" fill="#111" dominant-baseline="central" >Anti-</text>
<text x="158.0" y="352.1" font-size="5.75" text-anchor="middle" font-weight="bold" fill="#111" dominant-baseline="central" >Lck&#160; pY505</text>
<text x="158.6" y="371.5" font-size="5.65" text-anchor="middle" font-weight="bold" fill="#111" dominant-baseline="central" >Anti-Lyn</text>
<text x="279.6" y="211.3" font-size="11" font-weight="bold" fill="#000" dominant-baseline="central">F</text>
<text x="348.0" y="211.3" font-size="6.9" text-anchor="middle" font-weight="normal" fill="#111" dominant-baseline="central" stroke="#111" stroke-width="0.12">Raft</text>
<text x="399.6" y="211.3" font-size="6.9" text-anchor="middle" font-weight="normal" fill="#111" dominant-baseline="central" stroke="#111" stroke-width="0.12">Non Raft</text>
<text x="452.0" y="211.3" font-size="6.9" text-anchor="middle" font-weight="normal" fill="#111" dominant-baseline="central" stroke="#111" stroke-width="0.12">Raft</text>
<text x="502.5" y="211.3" font-size="6.9" text-anchor="middle" font-weight="normal" fill="#111" dominant-baseline="central" stroke="#111" stroke-width="0.12">Non Raft</text>
<text x="319.9" y="227.1" font-size="5.5" text-anchor="end" font-weight="normal" fill="#222" dominant-baseline="central" stroke="#222" stroke-width="0.12">Control</text>
<rect x="322.0" y="218.6" width="91.4" height="17.7" fill="#e8e8e8"/>
<rect x="424.8" y="218.6" width="93.0" height="17.7" fill="#e8e8e8"/>
<text x="319.9" y="246.8" font-size="5.5" text-anchor="end" font-weight="normal" fill="#222" dominant-baseline="central" stroke="#222" stroke-width="0.12">10 µM CGP</text>
<rect x="322.0" y="238.4" width="91.4" height="17.1" fill="#e8e8e8"/>
<rect x="424.8" y="238.4" width="93.0" height="17.1" fill="#e8e8e8"/>
<text x="319.9" y="266.8" font-size="5.5" text-anchor="end" font-weight="normal" fill="#222" dominant-baseline="central" stroke="#222" stroke-width="0.12">20 µM CGP</text>
<rect x="322.0" y="258.2" width="91.4" height="17.1" fill="#e8e8e8"/>
<rect x="424.8" y="258.2" width="93.0" height="17.1" fill="#e8e8e8"/>
<text x="319.9" y="286.1" font-size="5.5" text-anchor="end" font-weight="normal" fill="#222" dominant-baseline="central" stroke="#222" stroke-width="0.12">40 µM CGP</text>
<rect x="322.0" y="278.2" width="91.4" height="17.6" fill="#e8e8e8"/>
<rect x="424.8" y="278.2" width="93.0" height="17.6" fill="#e8e8e8"/>
<rect x="339.2" y="221.8" width="7.8" height="11.5" rx="2.0" fill="#151515" filter="url(#b2)"/>
<rect x="348.2" y="220.8" width="8.6" height="10.5" rx="2.0" fill="#111" filter="url(#b2)"/>
<rect x="337.5" y="243.2" width="6.7" height="7.5" rx="1.8" fill="#222" filter="url(#b2)"/>
<rect x="347.1" y="244.1" width="6.8" height="5.5" rx="2.0" fill="#888" filter="url(#b2)"/>
<rect x="358.0" y="245.5" width="3.0" height="3.0" rx="1.5" fill="#ccc" filter="url(#b1)"/>
<rect x="330.3" y="265.5" width="5.7" height="4.0" rx="2.0" fill="#c8c8c8" filter="url(#b2)"/>
<rect x="339.2" y="263.2" width="7.6" height="8.5" rx="1.8" fill="#222" filter="url(#b2)"/>
<rect x="349.0" y="266.0" width="3.0" height="3.0" rx="1.5" fill="#c5c5c5" filter="url(#b1)"/>
<rect x="329.2" y="285.5" width="6.8" height="4.0" rx="2.0" fill="#c5c5c5" filter="url(#b2)"/>
<rect x="338.5" y="282.9" width="7.7" height="8.5" rx="1.8" fill="#111" filter="url(#b2)"/>
<rect x="348.3" y="285.2" width="5.6" height="4.5" rx="2.2" fill="#aaa" filter="url(#b2)"/>
<rect x="394.8" y="226.0" width="2.8" height="5.0" rx="1.2" fill="#bbb" filter="url(#b1)"/>
<rect x="398.0" y="226.0" width="2.8" height="5.0" rx="1.2" fill="#aaa" filter="url(#b1)"/>
<rect x="403.8" y="226.0" width="3.0" height="5.0" rx="1.2" fill="#555" filter="url(#b1)"/>
<rect x="407.2" y="226.0" width="3.1" height="5.0" rx="1.2" fill="#444" filter="url(#b1)"/>
<rect x="394.8" y="245.0" width="2.8" height="5.0" rx="1.2" fill="#ccc" filter="url(#b1)"/>
<rect x="398.0" y="245.0" width="2.8" height="5.0" rx="1.2" fill="#bbb" filter="url(#b1)"/>
<rect x="403.8" y="245.0" width="3.0" height="5.0" rx="1.2" fill="#666" filter="url(#b1)"/>
<rect x="407.2" y="245.0" width="3.1" height="5.0" rx="1.2" fill="#555" filter="url(#b1)"/>
<rect x="394.8" y="265.0" width="2.8" height="5.0" rx="1.2" fill="#888" filter="url(#b1)"/>
<rect x="398.0" y="265.0" width="2.8" height="5.0" rx="1.2" fill="#888" filter="url(#b1)"/>
<rect x="403.8" y="265.0" width="3.0" height="5.0" rx="1.2" fill="#555" filter="url(#b1)"/>
<rect x="407.2" y="265.0" width="3.1" height="5.0" rx="1.2" fill="#555" filter="url(#b1)"/>
<rect x="394.8" y="285.3" width="2.8" height="5.0" rx="1.2" fill="#333" filter="url(#b1)"/>
<rect x="398.0" y="285.3" width="2.8" height="5.0" rx="1.2" fill="#444" filter="url(#b1)"/>
<rect x="403.8" y="285.3" width="3.0" height="5.0" rx="1.2" fill="#444" filter="url(#b1)"/>
<rect x="407.2" y="285.3" width="3.1" height="5.0" rx="1.2" fill="#555" filter="url(#b1)"/>
<rect x="443.5" y="225.2" width="6.8" height="2.0" rx="0.6" fill="#222" filter="url(#b1)"/>
<rect x="443.5" y="228.6" width="6.8" height="2.0" rx="0.6" fill="#222" filter="url(#b1)"/>
<rect x="452.5" y="224.9" width="7.9" height="2.6" rx="0.6" fill="#111" filter="url(#b1)"/>
<rect x="452.5" y="228.3" width="7.9" height="2.6" rx="0.6" fill="#111" filter="url(#b1)"/>
<rect x="500.3" y="225.2" width="5.3" height="2.0" rx="0.6" fill="#888" filter="url(#b1)"/>
<rect x="500.3" y="228.6" width="5.3" height="2.0" rx="0.6" fill="#777" filter="url(#b1)"/>
<rect x="508.6" y="225.2" width="6.7" height="2.0" rx="0.6" fill="#222" filter="url(#b1)"/>
<rect x="508.6" y="228.6" width="6.7" height="2.0" rx="0.6" fill="#222" filter="url(#b1)"/>
<rect x="440.2" y="246.0" width="7.2" height="2.0" rx="0.6" fill="#222" filter="url(#b1)"/>
<rect x="440.2" y="249.4" width="7.2" height="2.0" rx="0.6" fill="#222" filter="url(#b1)"/>
<rect x="450.3" y="246.0" width="6.7" height="2.0" rx="0.6" fill="#555" filter="url(#b1)"/>
<rect x="450.3" y="249.4" width="6.7" height="2.0" rx="0.6" fill="#666" filter="url(#b1)"/>
<rect x="461.0" y="246.9" width="4.0" height="1.2" rx="0.6" fill="#ccc" filter="url(#b1)"/>
<rect x="461.0" y="249.8" width="4.0" height="1.2" rx="0.6" fill="#ccc" filter="url(#b1)"/>
<rect x="498.0" y="246.0" width="7.6" height="2.0" rx="0.6" fill="#555" filter="url(#b1)"/>
<rect x="498.0" y="249.4" width="7.6" height="2.0" rx="0.6" fill="#444" filter="url(#b1)"/>
<rect x="507.4" y="245.6" width="7.9" height="2.8" rx="0.6" fill="#111" filter="url(#b1)"/>
<rect x="507.4" y="249.0" width="7.9" height="2.8" rx="0.6" fill="#111" filter="url(#b1)"/>
<rect x="442.4" y="264.2" width="7.2" height="2.4" rx="0.6" fill="#111" filter="url(#b1)"/>
<rect x="442.4" y="267.6" width="7.2" height="2.4" rx="0.6" fill="#111" filter="url(#b1)"/>
<rect x="452.5" y="264.8" width="4.5" height="1.2" rx="0.6" fill="#aaa" filter="url(#b1)"/>
<rect x="452.5" y="268.2" width="4.5" height="1.2" rx="0.6" fill="#aaa" filter="url(#b1)"/>
<rect x="498.5" y="264.4" width="7.8" height="2.0" rx="0.6" fill="#222" filter="url(#b1)"/>
<rect x="498.5" y="267.8" width="7.8" height="2.0" rx="0.6" fill="#222" filter="url(#b1)"/>
<rect x="507.9" y="264.1" width="7.4" height="2.6" rx="0.6" fill="#111" filter="url(#b1)"/>
<rect x="507.9" y="267.5" width="7.4" height="2.6" rx="0.6" fill="#111" filter="url(#b1)"/>
<rect x="441.3" y="283.8" width="7.4" height="2.4" rx="0.6" fill="#111" filter="url(#b1)"/>
<rect x="441.3" y="286.7" width="7.4" height="2.4" rx="0.6" fill="#111" filter="url(#b1)"/>
<rect x="451.0" y="284.0" width="6.0" height="2.0" rx="0.6" fill="#777" filter="url(#b1)"/>
<rect x="451.0" y="286.9" width="6.0" height="2.0" rx="0.6" fill="#888" filter="url(#b1)"/>
<rect x="497.4" y="283.8" width="8.2" height="2.4" rx="0.6" fill="#222" filter="url(#b1)"/>
<rect x="497.4" y="286.7" width="8.2" height="2.4" rx="0.6" fill="#222" filter="url(#b1)"/>
<rect x="507.0" y="283.8" width="7.6" height="2.4" rx="0.6" fill="#222" filter="url(#b1)"/>
<rect x="507.0" y="286.7" width="7.6" height="2.4" rx="0.6" fill="#222" filter="url(#b1)"/>
<text x="365.5" y="302.9" font-size="5.95" text-anchor="middle" font-weight="bold" fill="#111" dominant-baseline="central" >Anti-PAG</text>
<text x="474.5" y="302.9" font-size="5.95" text-anchor="middle" font-weight="bold" fill="#111" dominant-baseline="central" >Anti-Lyn</text>
<rect x="289.5" y="319.5" width="3.7" height="3.2" fill="#000"/>
<text x="294.5" y="320.4" font-size="5.0" text-anchor="start" font-weight="normal" fill="#222" dominant-baseline="central" stroke="#222" stroke-width="0.12">Rafts</text>
<rect x="289.7" y="325.6" width="3.3" height="2.8" fill="#fff" stroke="#333" stroke-width="0.4"/>
<text x="294.5" y="327.0" font-size="5.0" text-anchor="start" font-weight="normal" fill="#222" dominant-baseline="central" stroke="#222" stroke-width="0.12">Non Rafts</text>
<path d="M332.0,318.0V362.6H412.3" stroke="#777" stroke-width="0.6" fill="none"/>
<path d="M330.8,362.6H332.0M330.8,357.0H332.0M330.8,351.5H332.0M330.8,345.9H332.0M330.8,340.3H332.0M330.8,334.7H332.0M330.8,329.1H332.0M330.8,323.6H332.0M330.8,318.0H332.0" stroke="#777" stroke-width="0.5"/>
<text x="329.0" y="362.9" font-size="5.1" text-anchor="end" font-weight="normal" fill="#222" dominant-baseline="central" stroke="#222" stroke-width="0.12">0</text>
<text x="329.0" y="357.3" font-size="5.1" text-anchor="end" font-weight="normal" fill="#222" dominant-baseline="central" stroke="#222" stroke-width="0.12">10</text>
<text x="329.0" y="351.8" font-size="5.1" text-anchor="end" font-weight="normal" fill="#222" dominant-baseline="central" stroke="#222" stroke-width="0.12">20</text>
<text x="329.0" y="346.2" font-size="5.1" text-anchor="end" font-weight="normal" fill="#222" dominant-baseline="central" stroke="#222" stroke-width="0.12">30</text>
<text x="329.0" y="340.6" font-size="5.1" text-anchor="end" font-weight="normal" fill="#222" dominant-baseline="central" stroke="#222" stroke-width="0.12">40</text>
<text x="329.0" y="335.0" font-size="5.1" text-anchor="end" font-weight="normal" fill="#222" dominant-baseline="central" stroke="#222" stroke-width="0.12">50</text>
<text x="329.0" y="329.4" font-size="5.1" text-anchor="end" font-weight="normal" fill="#222" dominant-baseline="central" stroke="#222" stroke-width="0.12">60</text>
<text x="329.0" y="323.9" font-size="5.1" text-anchor="end" font-weight="normal" fill="#222" dominant-baseline="central" stroke="#222" stroke-width="0.12">70</text>
<text x="329.0" y="318.3" font-size="5.1" text-anchor="end" font-weight="normal" fill="#222" dominant-baseline="central" stroke="#222" stroke-width="0.12">80</text>
<rect x="336.3" y="318.0" width="6.3" height="44.6" fill="#000"/>
<rect x="342.6" y="351.5" width="6.0" height="11.1" fill="#fff" stroke="#333" stroke-width="0.45"/>
<rect x="356.1" y="322.5" width="6.3" height="40.1" fill="#000"/>
<rect x="362.4" y="347.5" width="6.0" height="15.1" fill="#fff" stroke="#333" stroke-width="0.45"/>
<rect x="376.0" y="326.9" width="6.3" height="35.7" fill="#000"/>
<rect x="382.3" y="342.0" width="6.0" height="20.6" fill="#fff" stroke="#333" stroke-width="0.45"/>
<rect x="396.2" y="327.5" width="6.3" height="35.1" fill="#000"/>
<rect x="402.5" y="342.0" width="6.0" height="20.6" fill="#fff" stroke="#333" stroke-width="0.45"/>
<text x="342.7" y="369.7" font-size="4.9" text-anchor="middle" font-weight="normal" fill="#222" dominant-baseline="central" stroke="#222" stroke-width="0.12">control</text>
<text x="362.3" y="369.7" font-size="4.9" text-anchor="middle" font-weight="normal" fill="#222" dominant-baseline="central" stroke="#222" stroke-width="0.12">10 µM</text>
<text x="362.3" y="376.2" font-size="4.9" text-anchor="middle" font-weight="normal" fill="#222" dominant-baseline="central" stroke="#222" stroke-width="0.12">CGP</text>
<text x="380.5" y="369.7" font-size="4.9" text-anchor="middle" font-weight="normal" fill="#222" dominant-baseline="central" stroke="#222" stroke-width="0.12">20 µM</text>
<text x="380.5" y="376.2" font-size="4.9" text-anchor="middle" font-weight="normal" fill="#222" dominant-baseline="central" stroke="#222" stroke-width="0.12">CGP</text>
<text x="401.5" y="369.7" font-size="4.9" text-anchor="middle" font-weight="normal" fill="#222" dominant-baseline="central" stroke="#222" stroke-width="0.12">40 µM</text>
<text x="401.5" y="376.2" font-size="4.9" text-anchor="middle" font-weight="normal" fill="#222" dominant-baseline="central" stroke="#222" stroke-width="0.12">CGP</text>
<text x="0" y="0" font-size="5.2" fill="#222" text-anchor="middle" dominant-baseline="central" transform="translate(317.5,339.9) rotate(-90)">a.u.</text>
<path d="M436.9,318.0V362.6H514.6" stroke="#777" stroke-width="0.6" fill="none"/>
<path d="M435.7,362.6H436.9M435.7,357.0H436.9M435.7,351.5H436.9M435.7,345.9H436.9M435.7,340.3H436.9M435.7,334.7H436.9M435.7,329.1H436.9M435.7,323.6H436.9M435.7,318.0H436.9" stroke="#777" stroke-width="0.5"/>
<text x="433.9" y="362.9" font-size="5.1" text-anchor="end" font-weight="normal" fill="#222" dominant-baseline="central" stroke="#222" stroke-width="0.12">0</text>
<text x="433.9" y="357.3" font-size="5.1" text-anchor="end" font-weight="normal" fill="#222" dominant-baseline="central" stroke="#222" stroke-width="0.12">10</text>
<text x="433.9" y="351.8" font-size="5.1" text-anchor="end" font-weight="normal" fill="#222" dominant-baseline="central" stroke="#222" stroke-width="0.12">20</text>
<text x="433.9" y="346.2" font-size="5.1" text-anchor="end" font-weight="normal" fill="#222" dominant-baseline="central" stroke="#222" stroke-width="0.12">30</text>
<text x="433.9" y="340.6" font-size="5.1" text-anchor="end" font-weight="normal" fill="#222" dominant-baseline="central" stroke="#222" stroke-width="0.12">40</text>
<text x="433.9" y="335.0" font-size="5.1" text-anchor="end" font-weight="normal" fill="#222" dominant-baseline="central" stroke="#222" stroke-width="0.12">50</text>
<text x="433.9" y="329.4" font-size="5.1" text-anchor="end" font-weight="normal" fill="#222" dominant-baseline="central" stroke="#222" stroke-width="0.12">60</text>
<text x="433.9" y="323.9" font-size="5.1" text-anchor="end" font-weight="normal" fill="#222" dominant-baseline="central" stroke="#222" stroke-width="0.12">70</text>
<text x="433.9" y="318.3" font-size="5.1" text-anchor="end" font-weight="normal" fill="#222" dominant-baseline="central" stroke="#222" stroke-width="0.12">80</text>
<rect x="441.9" y="323.6" width="6.3" height="39.0" fill="#000"/>
<rect x="448.2" y="345.3" width="6.0" height="17.3" fill="#fff" stroke="#333" stroke-width="0.45"/>
<rect x="460.8" y="339.7" width="6.3" height="22.9" fill="#000"/>
<rect x="467.1" y="328.6" width="6.0" height="34.0" fill="#fff" stroke="#333" stroke-width="0.45"/>
<rect x="480.4" y="343.1" width="6.3" height="19.5" fill="#000"/>
<rect x="486.7" y="325.8" width="6.0" height="36.8" fill="#fff" stroke="#333" stroke-width="0.45"/>
<rect x="500.6" y="343.6" width="6.3" height="19.0" fill="#000"/>
<rect x="506.9" y="325.2" width="6.0" height="37.4" fill="#fff" stroke="#333" stroke-width="0.45"/>
<text x="447.3" y="369.7" font-size="4.9" text-anchor="middle" font-weight="normal" fill="#222" dominant-baseline="central" stroke="#222" stroke-width="0.12">control</text>
<text x="466.7" y="369.7" font-size="4.9" text-anchor="middle" font-weight="normal" fill="#222" dominant-baseline="central" stroke="#222" stroke-width="0.12">10 µM</text>
<text x="466.7" y="376.2" font-size="4.9" text-anchor="middle" font-weight="normal" fill="#222" dominant-baseline="central" stroke="#222" stroke-width="0.12">CGP</text>
<text x="486.4" y="369.7" font-size="4.9" text-anchor="middle" font-weight="normal" fill="#222" dominant-baseline="central" stroke="#222" stroke-width="0.12">20 µM</text>
<text x="486.4" y="376.2" font-size="4.9" text-anchor="middle" font-weight="normal" fill="#222" dominant-baseline="central" stroke="#222" stroke-width="0.12">CGP</text>
<text x="506.0" y="369.7" font-size="4.9" text-anchor="middle" font-weight="normal" fill="#222" dominant-baseline="central" stroke="#222" stroke-width="0.12">40 µM</text>
<text x="506.0" y="376.2" font-size="4.9" text-anchor="middle" font-weight="normal" fill="#222" dominant-baseline="central" stroke="#222" stroke-width="0.12">CGP</text>
<text x="0" y="0" font-size="5.2" fill="#222" text-anchor="middle" dominant-baseline="central" transform="translate(422.4,339.9) rotate(-90)">a.u.</text>
</svg>
</body></html>
